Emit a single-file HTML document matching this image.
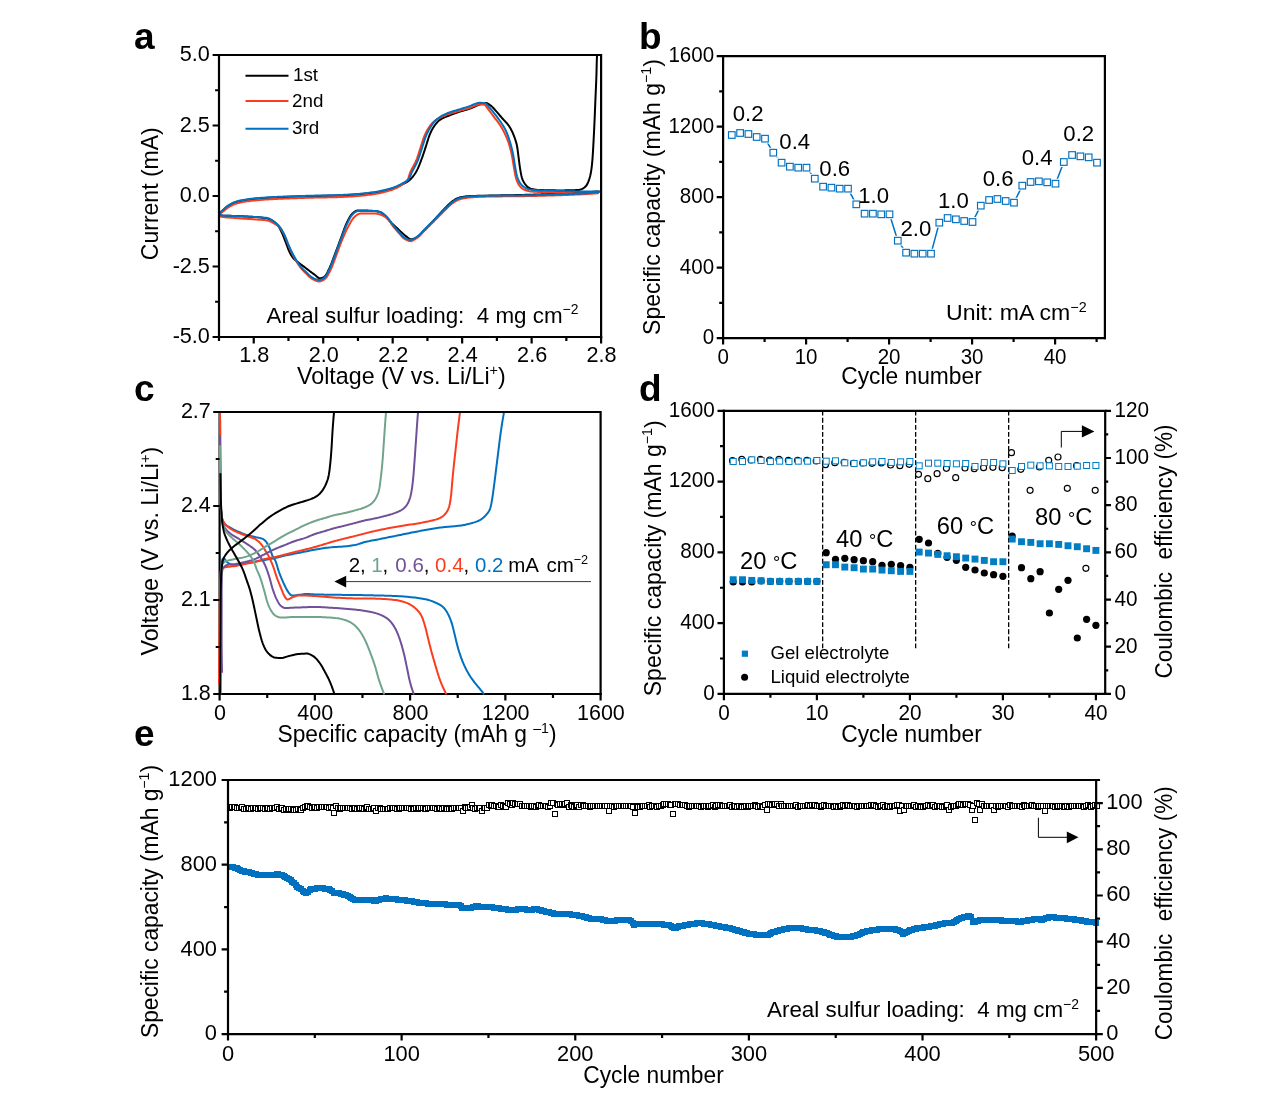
<!DOCTYPE html>
<html lang="en">
<head>
<meta charset="utf-8">
<title>Figure</title>
<style>
html,body{margin:0;padding:0;background:#fff;}
body{width:1275px;height:1104px;overflow:hidden;}
svg{display:block;will-change:transform;}
svg text{font-family:'Liberation Sans', sans-serif;}
</style>
</head>
<body>
<svg width="1275" height="1104" viewBox="0 0 1275 1104">
<rect width="1275" height="1104" fill="#fff"/>
<g id="panel-a">
<clipPath id="clipA"><rect x="219" y="55" width="382.1" height="282"/></clipPath>
<g clip-path="url(#clipA)">
<polyline points="599,191.4 597.5,191.5 596,191.61 594.5,191.71 593,191.81 591.5,191.9 590,192 588.49,192.1 586.99,192.19 585.49,192.28 583.99,192.37 582.49,192.46 580.99,192.54 579.49,192.63 577.98,192.71 576.48,192.79 574.98,192.87 573.48,192.95 571.98,193.03 570.47,193.1 568.97,193.18 567.47,193.25 565.97,193.33 564.46,193.4 562.96,193.47 561.46,193.53 559.96,193.6 558.45,193.67 556.95,193.73 555.45,193.8 553.95,193.86 552.44,193.93 550.94,193.99 549.44,194.05 547.93,194.11 546.43,194.17 544.93,194.22 543.43,194.28 541.92,194.33 540.42,194.39 538.92,194.44 537.41,194.49 535.91,194.54 534.41,194.59 532.9,194.64 531.4,194.68 529.9,194.73 528.39,194.77 526.89,194.82 525.39,194.86 523.88,194.9 522.38,194.94 520.87,194.98 519.37,195.01 517.87,195.05 516.36,195.08 514.86,195.11 513.36,195.14 511.85,195.17 510.35,195.2 508.84,195.23 507.34,195.26 505.84,195.29 504.33,195.32 502.83,195.34 501.33,195.37 499.82,195.4 498.32,195.43 496.81,195.46 495.31,195.49 493.81,195.52 492.3,195.54 490.8,195.57 489.29,195.6 487.79,195.63 486.29,195.66 484.78,195.69 483.28,195.72 481.78,195.76 480.27,195.79 478.77,195.83 477.26,195.87 475.76,195.9 474.25,195.95 472.75,195.99 471.24,196.05 469.74,196.11 468.25,196.19 466.74,196.29 465.24,196.45 463.73,196.67 462.24,196.92 460.78,197.22 459.35,197.58 457.94,198.09 456.56,198.74 455.21,199.48 453.93,200.24 452.7,201.07 451.52,202 450.38,203 449.25,204.03 448.15,205.06 447.06,206.09 446,207.15 444.95,208.23 443.92,209.33 442.9,210.44 441.88,211.55 440.87,212.66 439.85,213.77 438.83,214.87 437.82,215.99 436.81,217.11 435.81,218.23 434.8,219.35 433.79,220.46 432.78,221.57 431.75,222.67 430.71,223.76 429.67,224.84 428.63,225.92 427.58,227 426.52,228.07 425.46,229.14 424.4,230.2 423.34,231.28 422.3,232.4 421.26,233.53 420.19,234.61 419.08,235.61 417.9,236.46 416.64,237.3 415.29,238.14 413.89,238.81 412.46,239.17 410.98,239.14 409.54,238.87 408.27,238.06 407.07,237.05 405.88,236.14 404.72,235.18 403.59,234.2 402.46,233.19 401.35,232.17 400.25,231.15 399.14,230.13 398.03,229.11 396.92,228.09 395.82,227.07 394.72,226.04 393.64,225 392.56,223.95 391.49,222.89 390.43,221.82 389.41,220.72 388.39,219.61 387.38,218.49 386.36,217.39 385.31,216.31 384.25,215.22 383.17,214.06 382.05,213.03 380.84,212.33 379.47,211.86 377.99,211.46 376.46,211.17 374.95,211 373.46,210.9 371.94,210.81 370.42,210.73 368.88,210.65 367.34,210.59 365.81,210.53 364.28,210.49 362.77,210.45 361.28,210.43 359.82,210.41 358.39,210.4 356.97,210.56 355.54,211.17 354.19,212.05 353.02,212.98 352.03,213.94 351.1,215.06 350.24,216.31 349.44,217.64 348.68,219.03 347.97,220.43 347.29,221.81 346.64,223.15 346.02,224.5 345.44,225.88 344.88,227.27 344.35,228.68 343.83,230.1 343.32,231.52 342.82,232.95 342.32,234.38 341.81,235.81 341.29,237.22 340.76,238.63 340.23,240.04 339.7,241.45 339.18,242.86 338.66,244.27 338.13,245.68 337.61,247.09 337.09,248.5 336.56,249.91 336.03,251.32 335.49,252.72 334.95,254.12 334.42,255.53 333.89,256.95 333.37,258.37 332.85,259.79 332.32,261.2 331.78,262.61 331.23,264.01 330.65,265.4 330.05,266.77 329.43,268.13 328.77,269.47 328.09,270.9 327.39,272.37 326.64,273.81 325.83,275.12 324.93,276.23 323.92,277.05 322.6,277.73 321.07,278.26 319.66,278.37 318.38,277.85 317.14,276.87 315.93,275.76 314.71,274.79 313.49,273.91 312.29,273.01 311.09,272.1 309.89,271.19 308.69,270.28 307.49,269.37 306.29,268.47 305.08,267.57 303.87,266.68 302.67,265.78 301.46,264.88 300.26,263.97 299.07,263.05 297.86,262.15 296.62,261.25 295.42,260.32 294.32,259.33 293.34,258.24 292.43,257.05 291.58,255.78 290.8,254.47 290.08,253.15 289.42,251.81 288.82,250.44 288.26,249.05 287.73,247.63 287.21,246.21 286.69,244.79 286.15,243.38 285.6,241.98 285.06,240.57 284.52,239.16 283.98,237.76 283.43,236.35 282.87,234.96 282.27,233.59 281.64,232.22 281,230.84 280.33,229.46 279.62,228.12 278.86,226.83 278.02,225.63 277.08,224.49 276.02,223.38 274.87,222.35 273.66,221.43 272.43,220.66 271.1,219.93 269.71,219.27 268.28,218.73 266.84,218.37 265.39,218.11 263.92,217.88 262.43,217.68 260.93,217.51 259.41,217.36 257.9,217.22 256.39,217.1 254.88,216.99 253.38,216.89 251.88,216.8 250.38,216.71 248.88,216.64 247.38,216.57 245.88,216.5 244.37,216.44 242.87,216.37 241.37,216.31 239.86,216.24 238.36,216.17 236.86,216.1 235.35,216.02 233.77,215.94 231.97,215.88 230.02,215.83 228.02,215.78 226.07,215.72 224.24,215.65 222.63,215.56 221.33,215.44 220.43,215.27 220.02,215.06 220.02,213.88 220.58,212.62 221.64,211.45 222.91,210.36 224.09,209.31 225.19,208.29 226.34,207.31 227.55,206.38 228.78,205.54 230.05,204.76 231.38,204.01 232.73,203.33 234.12,202.73 235.51,202.23 236.94,201.79 238.4,201.39 239.87,201.03 241.35,200.71 242.83,200.43 244.31,200.17 245.79,199.94 247.28,199.71 248.77,199.51 250.26,199.31 251.76,199.14 253.26,198.97 254.75,198.82 256.25,198.68 257.75,198.55 259.24,198.43 260.74,198.3 262.24,198.19 263.74,198.08 265.24,197.97 266.75,197.87 268.25,197.78 269.75,197.69 271.25,197.6 272.76,197.52 274.26,197.44 275.76,197.36 277.26,197.29 278.76,197.22 280.27,197.15 281.77,197.09 283.27,197.03 284.77,196.97 286.28,196.91 287.78,196.85 289.28,196.8 290.79,196.75 292.29,196.69 293.79,196.64 295.3,196.59 296.8,196.54 298.3,196.49 299.81,196.44 301.31,196.39 302.81,196.34 304.32,196.3 305.82,196.25 307.32,196.21 308.83,196.16 310.33,196.12 311.83,196.08 313.34,196.04 314.84,196 316.35,195.97 317.85,195.94 319.35,195.91 320.86,195.88 322.36,195.86 323.87,195.83 325.37,195.81 326.87,195.78 328.38,195.75 329.88,195.72 331.38,195.69 332.89,195.66 334.39,195.62 335.89,195.57 337.4,195.52 338.9,195.47 340.4,195.41 341.91,195.35 343.41,195.28 344.91,195.2 346.42,195.13 347.92,195.04 349.42,194.96 350.92,194.87 352.42,194.77 353.92,194.67 355.42,194.57 356.92,194.46 358.42,194.34 359.92,194.21 361.42,194.07 362.92,193.92 364.41,193.76 365.91,193.59 367.41,193.42 368.9,193.23 370.39,193.04 371.88,192.84 373.37,192.63 374.86,192.42 376.34,192.19 377.82,191.93 379.3,191.65 380.78,191.35 382.25,191.03 383.72,190.7 385.18,190.36 386.64,190.01 388.11,189.64 389.57,189.26 391.02,188.86 392.47,188.43 393.9,187.97 395.31,187.49 396.71,186.95 398.09,186.37 399.47,185.74 400.83,185.09 402.18,184.41 403.52,183.74 404.89,183.06 406.26,182.36 407.57,181.6 408.78,180.77 409.88,179.85 410.95,178.81 411.98,177.69 412.96,176.5 413.89,175.26 414.76,174 415.57,172.72 416.31,171.45 417.01,170.16 417.67,168.82 418.3,167.46 418.9,166.07 419.48,164.67 420.03,163.25 420.58,161.83 421.11,160.4 421.63,158.98 422.16,157.57 422.67,156.16 423.16,154.74 423.63,153.31 424.1,151.88 424.56,150.45 425.02,149.02 425.48,147.58 425.95,146.15 426.42,144.72 426.87,143.28 427.31,141.84 427.76,140.39 428.21,138.96 428.68,137.53 429.18,136.11 429.71,134.71 430.28,133.33 430.9,131.96 431.56,130.59 432.27,129.24 433.02,127.93 433.81,126.68 434.66,125.45 435.58,124.23 436.56,123.03 437.6,121.89 438.69,120.84 439.82,119.93 441.01,119.14 442.29,118.43 443.65,117.77 445.05,117.16 446.48,116.58 447.91,116.02 449.33,115.47 450.73,114.91 452.13,114.36 453.54,113.83 454.96,113.32 456.38,112.82 457.8,112.33 459.23,111.85 460.66,111.39 462.1,110.95 463.54,110.54 464.99,110.13 466.44,109.72 467.89,109.29 469.32,108.83 470.73,108.33 472.12,107.76 473.5,107.13 474.87,106.49 476.24,105.85 477.62,105.25 479.02,104.72 480.44,104.27 481.91,103.81 483.4,103.38 484.87,103.08 486.29,103.02 487.69,103.49 489.04,104.33 490.28,105.2 491.43,106.11 492.52,107.15 493.56,108.26 494.58,109.41 495.59,110.55 496.6,111.66 497.6,112.79 498.57,113.93 499.54,115.08 500.5,116.24 501.48,117.39 502.46,118.53 503.49,119.64 504.54,120.74 505.59,121.84 506.61,122.96 507.59,124.1 508.5,125.27 509.32,126.49 510.09,127.76 510.83,129.07 511.54,130.41 512.21,131.78 512.84,133.16 513.43,134.56 513.98,135.95 514.5,137.35 515,138.77 515.48,140.21 515.93,141.65 516.34,143.11 516.7,144.57 517.01,146.03 517.27,147.51 517.5,148.99 517.7,150.48 517.89,151.98 518.08,153.47 518.26,154.97 518.46,156.46 518.66,157.95 518.85,159.45 519.03,160.94 519.22,162.43 519.41,163.93 519.61,165.42 519.83,166.9 520.06,168.39 520.3,169.88 520.55,171.38 520.81,172.88 521.1,174.36 521.42,175.83 521.79,177.27 522.22,178.68 522.77,180.1 523.44,181.49 524.2,182.81 525.02,184.02 525.95,185.21 527.04,186.39 528.23,187.44 529.48,188.2 530.77,188.63 532.16,188.98 533.64,189.29 535.16,189.54 536.71,189.75 538.27,189.9 539.79,189.99 541.29,190.05 542.78,190.1 544.28,190.15 545.78,190.19 547.29,190.24 548.79,190.27 550.3,190.3 551.81,190.33 553.31,190.35 554.82,190.37 556.33,190.39 557.83,190.4 559.34,190.4 560.84,190.4 562.35,190.39 563.86,190.38 565.37,190.37 566.89,190.35 568.4,190.32 569.91,190.29 571.42,190.25 572.92,190.21 574.42,190.16 575.91,190.1 577.39,190.03 578.88,189.91 580.38,189.56 581.8,189.08 583.13,188.45 584.41,187.55 585.55,186.51 586.45,185.41 587.23,184.13 587.91,182.73 588.48,181.31 588.99,179.91 589.45,178.48 589.88,177.03 590.26,175.57 590.6,174.09 590.89,172.61 591.14,171.14 591.36,169.66 591.56,168.17 591.75,166.67 591.92,165.17 592.07,163.67 592.21,162.17 592.34,160.67 592.47,159.17 592.58,157.67 592.69,156.17 592.79,154.67 592.88,153.17 592.97,151.67 593.06,150.17 593.14,148.67 593.23,147.16 593.31,145.66 593.39,144.16 593.47,142.66 593.56,141.16 593.64,139.65 593.71,138.15 593.79,136.65 593.87,135.15 593.94,133.65 594.02,132.14 594.09,130.64 594.16,129.14 594.23,127.64 594.3,126.13 594.37,124.63 594.44,123.13 594.51,121.63 594.57,120.12 594.64,118.62 594.7,117.12 594.76,115.62 594.83,114.11 594.89,112.61 594.95,111.11 595.01,109.6 595.07,108.1 595.13,106.6 595.19,105.1 595.25,103.59 595.31,102.09 595.38,100.59 595.44,99.08 595.5,97.58 595.57,96.08 595.63,94.58 595.7,93.07 595.76,91.57 595.83,90.07 595.9,88.56 595.96,87.06 596.03,85.56 596.09,84.06 596.15,82.55 596.21,81.05 596.27,79.55 596.33,78.05 596.38,76.54 596.43,75.04 596.48,73.53 596.52,72.03 596.55,70.53 596.59,69.02 596.62,67.52 596.65,66.01 596.69,64.51 596.73,63 596.77,61.5 596.82,60 596.88,58.5 596.95,57 597.04,55.5 597.2,54" fill="none" stroke="#000" stroke-width="2" stroke-linejoin="round" stroke-linecap="round"/>
<polyline points="598,193.2 596.5,193.32 595,193.43 593.5,193.55 592,193.66 590.5,193.76 589,193.87 587.5,193.97 586,194.06 584.5,194.15 583,194.24 581.49,194.32 579.99,194.4 578.49,194.47 576.99,194.54 575.49,194.61 573.98,194.68 572.48,194.74 570.98,194.8 569.47,194.86 567.97,194.92 566.47,194.97 564.97,195.03 563.46,195.08 561.96,195.13 560.46,195.18 558.95,195.24 557.45,195.29 555.95,195.34 554.44,195.39 552.94,195.43 551.44,195.48 549.93,195.53 548.43,195.57 546.93,195.62 545.42,195.66 543.92,195.7 542.42,195.74 540.91,195.78 539.41,195.81 537.91,195.85 536.4,195.89 534.9,195.92 533.4,195.95 531.89,195.99 530.39,196.02 528.88,196.05 527.38,196.08 525.88,196.11 524.37,196.13 522.87,196.16 521.37,196.18 519.86,196.2 518.36,196.22 516.85,196.24 515.35,196.25 513.85,196.27 512.34,196.28 510.84,196.29 509.33,196.31 507.83,196.32 506.33,196.33 504.82,196.35 503.32,196.36 501.81,196.38 500.31,196.4 498.81,196.42 497.3,196.44 495.8,196.46 494.29,196.48 492.79,196.5 491.29,196.53 489.78,196.56 488.28,196.59 486.77,196.62 485.27,196.65 483.77,196.69 482.26,196.73 480.76,196.78 479.26,196.83 477.75,196.89 476.25,196.96 474.74,197.05 473.24,197.14 471.74,197.26 470.24,197.38 468.75,197.52 467.26,197.68 465.76,197.9 464.27,198.16 462.78,198.47 461.32,198.83 459.9,199.23 458.5,199.74 457.13,200.38 455.78,201.11 454.49,201.89 453.25,202.7 452.05,203.6 450.89,204.57 449.76,205.58 448.65,206.61 447.54,207.62 446.45,208.66 445.38,209.71 444.32,210.78 443.27,211.86 442.22,212.94 441.17,214.02 440.11,215.09 439.05,216.15 437.98,217.22 436.92,218.28 435.86,219.34 434.79,220.41 433.73,221.47 432.67,222.53 431.6,223.6 430.54,224.66 429.48,225.72 428.41,226.79 427.35,227.85 426.28,228.92 425.22,229.98 424.16,231.04 423.11,232.12 422.07,233.24 421.04,234.36 419.99,235.44 418.9,236.46 417.75,237.39 416.53,238.25 415.26,239.06 413.94,239.82 412.6,240.52 411.22,241.17 409.78,241.08 408.29,240.68 406.83,240.1 405.46,239.44 404.24,238.74 403.11,237.82 402.05,236.73 401.02,235.56 400.02,234.36 399.01,233.21 397.99,232.1 396.99,230.97 396.01,229.84 395.04,228.69 394.08,227.53 393.13,226.36 392.21,225.15 391.35,223.88 390.51,222.57 389.66,221.29 388.77,220.07 387.81,218.96 386.76,218.01 385.58,217.12 384.28,216.28 382.91,215.55 381.52,214.97 380.11,214.53 378.65,214.13 377.16,213.81 375.65,213.62 374.16,213.6 372.65,213.6 371.11,213.6 369.57,213.6 368.03,213.6 366.49,213.6 364.97,213.6 363.47,213.6 362.01,213.6 360.58,213.6 359.18,213.71 357.77,214.31 356.43,215.21 355.24,216.2 354.21,217.15 353.26,218.24 352.37,219.45 351.54,220.74 350.75,222.08 349.99,223.45 349.25,224.81 348.52,226.14 347.81,227.45 347.12,228.78 346.45,230.13 345.8,231.49 345.17,232.86 344.55,234.23 343.94,235.61 343.35,237 342.76,238.39 342.18,239.78 341.6,241.16 341.05,242.56 340.51,243.96 339.98,245.37 339.46,246.78 338.94,248.2 338.43,249.61 337.92,251.03 337.41,252.44 336.89,253.85 336.36,255.26 335.82,256.67 335.29,258.08 334.77,259.5 334.25,260.92 333.73,262.35 333.21,263.77 332.67,265.18 332.11,266.58 331.53,267.96 330.92,269.32 330.28,270.66 329.59,271.99 328.87,273.39 328.11,274.8 327.29,276.17 326.41,277.42 325.45,278.49 324.41,279.33 323.15,280.09 321.71,280.78 320.21,281.26 318.75,281.39 317.3,281.17 315.83,280.69 314.39,280.07 313.04,279.42 311.79,278.69 310.6,277.78 309.46,276.76 308.35,275.69 307.25,274.63 306.15,273.61 305.05,272.57 303.97,271.5 302.93,270.42 301.92,269.3 300.96,268.16 300.06,266.97 299.18,265.76 298.33,264.51 297.51,263.24 296.71,261.95 295.94,260.65 295.19,259.34 294.47,258.04 293.76,256.71 293.08,255.38 292.41,254.03 291.76,252.67 291.12,251.3 290.49,249.93 289.87,248.56 289.26,247.18 288.66,245.8 288.09,244.41 287.54,243 287.01,241.58 286.48,240.17 285.94,238.76 285.37,237.36 284.77,235.99 284.13,234.65 283.43,233.32 282.7,231.97 281.92,230.64 281.08,229.35 280.19,228.14 279.24,227.04 278.19,226.06 277,225.15 275.72,224.3 274.38,223.53 273.04,222.82 271.7,222.14 270.32,221.47 268.91,220.9 267.48,220.49 266.03,220.26 264.56,220.09 263.07,219.95 261.56,219.83 260.05,219.73 258.53,219.64 257.02,219.54 255.51,219.44 254.01,219.33 252.5,219.22 251,219.12 249.5,219.02 248,218.93 246.5,218.84 244.99,218.75 243.49,218.65 241.99,218.56 240.49,218.45 238.99,218.34 237.49,218.22 236,218.09 234.49,217.95 232.78,217.82 230.9,217.7 228.93,217.58 226.96,217.44 225.08,217.28 223.37,217.08 221.92,216.83 220.82,216.52 220.16,216.14 220,215.51 220.18,214.07 221.1,212.96 222.45,211.94 223.8,210.97 224.94,209.99 226.11,209.04 227.32,208.12 228.56,207.28 229.83,206.5 231.15,205.75 232.5,205.05 233.87,204.43 235.27,203.91 236.69,203.46 238.14,203.06 239.61,202.69 241.09,202.37 242.57,202.08 244.04,201.82 245.53,201.58 247.01,201.35 248.51,201.14 250,200.95 251.5,200.77 252.99,200.6 254.49,200.45 255.98,200.31 257.48,200.17 258.98,200.05 260.48,199.93 261.98,199.81 263.48,199.7 264.98,199.59 266.48,199.49 267.98,199.4 269.48,199.3 270.99,199.22 272.49,199.13 273.99,199.05 275.49,198.98 276.99,198.9 278.5,198.83 280,198.76 281.5,198.7 283,198.64 284.51,198.58 286.01,198.52 287.51,198.46 289.02,198.41 290.52,198.36 292.02,198.3 293.53,198.25 295.03,198.2 296.53,198.15 298.04,198.1 299.54,198.05 301.04,198 302.54,197.95 304.05,197.9 305.55,197.86 307.05,197.81 308.56,197.77 310.06,197.73 311.57,197.69 313.07,197.65 314.57,197.61 316.08,197.58 317.58,197.54 319.08,197.51 320.59,197.49 322.09,197.46 323.59,197.43 325.1,197.41 326.6,197.38 328.11,197.36 329.61,197.33 331.11,197.3 332.62,197.26 334.12,197.22 335.62,197.18 337.13,197.13 338.63,197.08 340.13,197.02 341.64,196.96 343.14,196.89 344.64,196.82 346.15,196.74 347.65,196.66 349.15,196.57 350.65,196.48 352.15,196.39 353.65,196.29 355.15,196.19 356.65,196.08 358.15,195.96 359.65,195.84 361.15,195.7 362.65,195.56 364.15,195.4 365.65,195.24 367.14,195.06 368.64,194.88 370.13,194.69 371.62,194.49 373.11,194.28 374.59,194.06 376.07,193.83 377.55,193.56 379.02,193.25 380.49,192.92 381.96,192.57 383.42,192.21 384.88,191.83 386.33,191.45 387.79,191.05 389.24,190.62 390.69,190.18 392.12,189.7 393.53,189.19 394.91,188.64 396.27,188.03 397.62,187.36 398.95,186.63 400.26,185.85 401.53,185.03 402.76,184.18 403.98,183.28 405.21,182.33 406.35,181.29 407.28,180.18 407.96,178.96 408.52,177.6 409,176.15 409.46,174.66 409.94,173.19 410.5,171.78 411.12,170.41 411.79,169.07 412.5,167.73 413.22,166.4 413.94,165.08 414.65,163.74 415.33,162.4 415.96,161.04 416.53,159.66 417.06,158.27 417.56,156.85 418.04,155.43 418.5,153.99 418.95,152.55 419.4,151.11 419.86,149.67 420.32,148.24 420.79,146.81 421.24,145.37 421.69,143.93 422.13,142.49 422.59,141.05 423.06,139.62 423.55,138.2 424.08,136.8 424.64,135.42 425.25,134.04 425.9,132.67 426.59,131.32 427.31,130 428.08,128.71 428.88,127.46 429.75,126.21 430.66,124.99 431.63,123.81 432.65,122.7 433.72,121.69 434.88,120.77 436.12,119.9 437.42,119.09 438.73,118.35 440.05,117.65 441.4,116.99 442.77,116.37 444.17,115.77 445.57,115.21 446.98,114.68 448.39,114.18 449.82,113.72 451.25,113.27 452.7,112.85 454.15,112.43 455.59,112 457.03,111.58 458.48,111.17 459.93,110.76 461.38,110.35 462.82,109.94 464.27,109.52 465.71,109.11 467.16,108.69 468.6,108.26 470.03,107.79 471.43,107.25 472.82,106.65 474.2,106.05 475.61,105.53 477.04,105.06 478.5,104.61 479.97,104.4 481.53,104.43 483.08,104.52 484.38,104.69 485.47,105.48 486.46,106.77 487.4,108.19 488.35,109.42 489.28,110.6 490.19,111.8 491.08,113.01 491.97,114.23 492.85,115.45 493.74,116.66 494.65,117.86 495.58,119.05 496.51,120.23 497.44,121.42 498.35,122.62 499.22,123.84 500.05,125.08 500.85,126.35 501.63,127.64 502.39,128.95 503.12,130.27 503.82,131.6 504.5,132.95 505.14,134.3 505.77,135.67 506.38,137.04 506.96,138.43 507.53,139.83 508.06,141.25 508.57,142.66 509.03,144.09 509.46,145.52 509.87,146.96 510.26,148.42 510.63,149.88 510.99,151.35 511.33,152.82 511.65,154.29 511.95,155.76 512.24,157.23 512.5,158.71 512.74,160.2 512.98,161.68 513.21,163.17 513.44,164.66 513.68,166.14 513.93,167.63 514.2,169.11 514.46,170.6 514.72,172.09 514.99,173.58 515.28,175.05 515.61,176.51 515.99,177.95 516.42,179.4 516.94,180.85 517.53,182.28 518.19,183.64 518.93,184.89 519.79,186.08 520.83,187.25 521.99,188.33 523.23,189.2 524.49,189.81 525.86,190.31 527.31,190.75 528.82,191.12 530.35,191.4 531.86,191.59 533.34,191.7 534.84,191.78 536.35,191.85 537.86,191.91 539.36,191.97 540.87,192.04 542.37,192.11 543.87,192.18 545.37,192.24 546.88,192.31 548.38,192.38 549.88,192.44 551.39,192.5 552.89,192.56 554.39,192.62 555.89,192.67 557.4,192.72 558.9,192.77 560.4,192.81 561.91,192.85 563.41,192.89 564.91,192.94 566.42,192.98 567.92,193.02 569.43,193.05 570.93,193.09 572.43,193.12 573.94,193.15 575.44,193.17 576.94,193.19 578.45,193.2 579.95,193.2 581.46,193.2 582.96,193.2 584.46,193.2 585.97,193.2 587.47,193.2 588.98,193.2 590.48,193.2 591.98,193.2 593.49,193.2 594.99,193.2 596.5,193.2 598,193.2" fill="none" stroke="#fb3d1e" stroke-width="2" stroke-linejoin="round" stroke-linecap="round"/>
<polyline points="599,192 597.5,192.16 596.01,192.31 594.51,192.46 593.02,192.6 591.52,192.74 590.02,192.88 588.53,193 587.03,193.13 585.53,193.24 584.03,193.35 582.53,193.45 581.03,193.54 579.54,193.63 578.04,193.7 576.54,193.78 575.04,193.84 573.53,193.91 572.03,193.97 570.53,194.03 569.03,194.09 567.53,194.14 566.03,194.19 564.52,194.25 563.02,194.3 561.52,194.35 560.02,194.4 558.52,194.45 557.01,194.5 555.51,194.55 554.01,194.6 552.51,194.65 551.01,194.69 549.51,194.74 548,194.79 546.5,194.83 545,194.87 543.5,194.91 542,194.95 540.49,194.99 538.99,195.02 537.49,195.06 535.99,195.09 534.49,195.13 532.98,195.16 531.48,195.2 529.98,195.23 528.48,195.26 526.98,195.29 525.47,195.31 523.97,195.34 522.47,195.36 520.97,195.39 519.46,195.41 517.96,195.43 516.46,195.44 514.96,195.46 513.45,195.47 511.95,195.48 510.45,195.5 508.95,195.51 507.44,195.52 505.94,195.53 504.44,195.55 502.94,195.56 501.43,195.58 499.93,195.6 498.43,195.62 496.93,195.64 495.42,195.67 493.92,195.69 492.42,195.71 490.92,195.74 489.42,195.77 487.91,195.8 486.41,195.83 484.91,195.87 483.41,195.91 481.9,195.95 480.4,195.99 478.9,196.03 477.4,196.08 475.89,196.14 474.39,196.21 472.89,196.28 471.39,196.36 469.89,196.46 468.4,196.57 466.9,196.7 465.4,196.89 463.9,197.13 462.41,197.42 460.95,197.75 459.54,198.14 458.14,198.67 456.78,199.34 455.45,200.1 454.17,200.89 452.94,201.72 451.76,202.64 450.61,203.62 449.48,204.64 448.37,205.66 447.27,206.68 446.18,207.71 445.11,208.77 444.06,209.84 443.01,210.92 441.96,212 440.91,213.08 439.85,214.15 438.79,215.21 437.73,216.27 436.67,217.33 435.61,218.39 434.54,219.46 433.48,220.52 432.42,221.58 431.36,222.64 430.29,223.71 429.23,224.77 428.17,225.83 427.11,226.89 426.04,227.96 424.98,229.02 423.92,230.08 422.87,231.17 421.84,232.29 420.81,233.4 419.76,234.47 418.66,235.47 417.49,236.38 416.26,237.23 414.98,238.03 413.65,238.78 412.31,239.46 410.92,240 409.47,239.81 407.98,239.37 406.53,238.76 405.19,238.1 404,237.36 402.88,236.4 401.83,235.3 400.81,234.11 399.81,232.91 398.8,231.78 397.79,230.67 396.79,229.54 395.81,228.4 394.84,227.25 393.89,226.09 392.94,224.93 392.03,223.72 391.16,222.48 390.31,221.22 389.44,219.97 388.55,218.77 387.6,217.63 386.57,216.57 385.47,215.51 384.31,214.47 383.09,213.53 381.82,212.76 380.5,212.22 379.08,211.74 377.6,211.33 376.08,211.06 374.59,211 373.09,211 371.57,211 370.03,211 368.48,211 366.94,211 365.4,211 363.87,211 362.37,211 360.89,211 359.45,211 358.05,211 356.67,211.29 355.29,212.06 354.01,213.07 352.92,214.07 351.97,215.11 351.1,216.27 350.28,217.54 349.52,218.89 348.8,220.28 348.11,221.68 347.45,223.07 346.79,224.43 346.17,225.78 345.56,227.15 344.99,228.53 344.43,229.93 343.88,231.33 343.35,232.74 342.82,234.16 342.3,235.57 341.77,236.98 341.23,238.39 340.69,239.79 340.16,241.2 339.63,242.6 339.11,244.01 338.58,245.42 338.06,246.83 337.54,248.24 337.02,249.65 336.5,251.06 335.97,252.46 335.44,253.87 334.9,255.27 334.36,256.68 333.84,258.09 333.32,259.51 332.79,260.93 332.26,262.34 331.73,263.75 331.17,265.15 330.6,266.53 330,267.9 329.37,269.25 328.71,270.6 328.03,272.01 327.32,273.46 326.56,274.87 325.74,276.16 324.83,277.27 323.83,278.12 322.57,278.89 321.11,279.56 319.61,279.96 318.17,279.94 316.71,279.6 315.24,279.05 313.84,278.41 312.53,277.75 311.32,276.94 310.15,275.98 309.02,274.94 307.92,273.86 306.81,272.83 305.7,271.81 304.6,270.78 303.51,269.73 302.46,268.65 301.46,267.54 300.51,266.4 299.61,265.21 298.74,263.98 297.89,262.73 297.07,261.46 296.28,260.17 295.51,258.88 294.76,257.58 294.03,256.27 293.32,254.95 292.63,253.62 291.95,252.27 291.29,250.92 290.64,249.56 290.01,248.19 289.38,246.83 288.76,245.46 288.17,244.08 287.61,242.68 287.06,241.27 286.52,239.86 285.97,238.46 285.41,237.07 284.81,235.69 284.17,234.34 283.49,233.01 282.78,231.67 282.02,230.34 281.23,229.04 280.39,227.78 279.5,226.6 278.55,225.5 277.49,224.44 276.35,223.44 275.15,222.49 273.92,221.6 272.67,220.79 271.38,219.96 270.05,219.16 268.68,218.49 267.28,218.05 265.86,217.83 264.4,217.66 262.91,217.51 261.41,217.39 259.88,217.29 258.36,217.2 256.83,217.11 255.32,217.02 253.82,216.93 252.32,216.84 250.82,216.76 249.32,216.68 247.82,216.61 246.32,216.54 244.82,216.48 243.32,216.41 241.82,216.34 240.32,216.27 238.82,216.2 237.31,216.13 235.81,216.05 234.28,215.96 232.54,215.9 230.63,215.84 228.64,215.79 226.67,215.74 224.79,215.68 223.1,215.59 221.7,215.48 220.66,215.33 220.09,215.13 220,214.37 220.23,212.97 221.07,211.74 222.24,210.59 223.47,209.5 224.56,208.46 225.68,207.45 226.86,206.49 228.08,205.6 229.33,204.79 230.62,204.03 231.96,203.31 233.33,202.66 234.72,202.1 236.13,201.63 237.57,201.21 239.03,200.83 240.5,200.49 241.98,200.19 243.46,199.92 244.93,199.67 246.42,199.44 247.91,199.22 249.4,199.02 250.89,198.84 252.39,198.67 253.88,198.51 255.38,198.36 256.87,198.23 258.37,198.1 259.86,197.97 261.36,197.86 262.86,197.74 264.36,197.64 265.86,197.53 267.36,197.44 268.86,197.34 270.36,197.25 271.86,197.17 273.36,197.09 274.86,197.01 276.36,196.93 277.86,196.86 279.36,196.79 280.87,196.73 282.37,196.66 283.87,196.6 285.37,196.54 286.87,196.49 288.37,196.43 289.87,196.38 291.38,196.33 292.88,196.27 294.38,196.22 295.88,196.17 297.38,196.12 298.88,196.07 300.39,196.02 301.89,195.97 303.39,195.92 304.89,195.88 306.39,195.83 307.9,195.79 309.4,195.75 310.9,195.7 312.4,195.66 313.9,195.63 315.41,195.59 316.91,195.56 318.41,195.53 319.91,195.5 321.41,195.47 322.92,195.45 324.42,195.42 325.92,195.4 327.42,195.37 328.93,195.34 330.43,195.31 331.93,195.28 333.43,195.24 334.93,195.2 336.44,195.16 337.94,195.11 339.44,195.05 340.94,194.99 342.44,194.92 343.94,194.85 345.45,194.78 346.95,194.7 348.45,194.61 349.95,194.53 351.45,194.43 352.95,194.34 354.44,194.24 355.94,194.13 357.44,194.02 358.94,193.89 360.43,193.76 361.93,193.62 363.43,193.46 364.92,193.3 366.42,193.13 367.91,192.96 369.4,192.77 370.89,192.57 372.38,192.37 373.87,192.16 375.35,191.95 376.83,191.71 378.31,191.45 379.79,191.16 381.26,190.85 382.73,190.53 384.2,190.19 385.65,189.84 387.11,189.47 388.57,189.08 390.02,188.67 391.46,188.23 392.89,187.76 394.3,187.26 395.69,186.73 397.06,186.13 398.42,185.47 399.76,184.78 401.09,184.06 402.41,183.33 403.74,182.61 405.15,181.9 406.51,181.15 407.68,180.31 408.57,179.3 409.32,178.09 409.98,176.72 410.59,175.28 411.19,173.81 411.81,172.39 412.49,171.04 413.18,169.71 413.89,168.38 414.6,167.04 415.3,165.71 415.99,164.37 416.66,163.03 417.29,161.67 417.88,160.3 418.42,158.91 418.94,157.5 419.42,156.08 419.89,154.65 420.35,153.22 420.79,151.78 421.24,150.34 421.7,148.91 422.17,147.48 422.63,146.04 423.08,144.61 423.53,143.17 423.98,141.73 424.44,140.3 424.92,138.87 425.43,137.46 425.97,136.07 426.55,134.69 427.17,133.32 427.83,131.96 428.53,130.62 429.25,129.3 430,128.01 430.77,126.72 431.58,125.44 432.44,124.17 433.33,122.95 434.28,121.8 435.28,120.72 436.37,119.7 437.54,118.73 438.76,117.82 440.01,116.99 441.28,116.22 442.59,115.49 443.94,114.8 445.31,114.15 446.69,113.54 448.08,112.97 449.48,112.45 450.9,111.97 452.33,111.52 453.78,111.08 455.22,110.64 456.65,110.2 458.09,109.77 459.54,109.34 460.98,108.92 462.42,108.49 463.85,108.05 465.28,107.59 466.72,107.13 468.14,106.65 469.56,106.16 470.96,105.62 472.35,105.01 473.73,104.4 475.13,103.86 476.56,103.45 478.03,103.06 479.51,102.82 481.03,102.82 482.6,102.91 484.1,103.07 485.41,103.32 486.57,104.12 487.63,105.33 488.65,106.61 489.67,107.73 490.66,108.86 491.62,110.01 492.56,111.19 493.5,112.37 494.43,113.55 495.36,114.73 496.29,115.91 497.2,117.11 498.1,118.31 498.98,119.53 499.84,120.76 500.68,122.01 501.51,123.26 502.34,124.53 503.15,125.8 503.94,127.1 504.68,128.4 505.38,129.72 506.03,131.06 506.63,132.42 507.2,133.81 507.74,135.21 508.26,136.63 508.76,138.06 509.23,139.49 509.68,140.93 510.11,142.37 510.53,143.81 510.93,145.26 511.32,146.71 511.69,148.17 512.04,149.63 512.38,151.1 512.7,152.56 513.01,154.03 513.29,155.51 513.55,156.99 513.79,158.47 514.02,159.95 514.25,161.44 514.48,162.93 514.72,164.41 514.98,165.89 515.24,167.37 515.5,168.86 515.76,170.35 516.04,171.84 516.34,173.31 516.67,174.76 517.06,176.2 517.51,177.64 518.04,179.08 518.64,180.49 519.31,181.84 520.05,183.08 520.95,184.27 522.01,185.4 523.17,186.41 524.37,187.24 525.67,188 527.06,188.69 528.49,189.24 529.93,189.59 531.38,189.78 532.86,189.94 534.36,190.07 535.88,190.18 537.4,190.27 538.91,190.35 540.41,190.42 541.91,190.48 543.42,190.54 544.92,190.6 546.42,190.65 547.92,190.7 549.42,190.74 550.92,190.78 552.43,190.82 553.93,190.86 555.43,190.89 556.93,190.93 558.44,190.96 559.94,191 561.44,191.04 562.94,191.07 564.45,191.12 565.95,191.16 567.45,191.2 568.95,191.23 570.45,191.27 571.96,191.3 573.46,191.33 574.96,191.36 576.46,191.38 577.97,191.39 579.47,191.4 580.97,191.4 582.47,191.4 583.97,191.4 585.48,191.4 586.98,191.4 588.48,191.4 589.98,191.4 591.49,191.4 592.99,191.4 594.49,191.4 595.99,191.4 597.5,191.4 599,191.4" fill="none" stroke="#0070c0" stroke-width="2" stroke-linejoin="round" stroke-linecap="round"/>
</g>
<path d="M219 55V337H601.1" fill="none" stroke="#000" stroke-width="2.2" stroke-linecap="square"/>
<path d="M219 55H601.1V337" fill="none" stroke="#000" stroke-width="2.2" stroke-linecap="square"/>
<path d="M253.74 337v6.4M323.21 337v6.4M392.68 337v6.4M462.15 337v6.4M531.63 337v6.4M601.1 337v6.4M219 337v3.9M288.47 337v3.9M357.95 337v3.9M427.42 337v3.9M496.89 337v3.9M566.36 337v3.9" stroke="#000" stroke-width="2.2" fill="none"/>
<path d="M219 55h-6.4M219 125.5h-6.4M219 196h-6.4M219 266.5h-6.4M219 337h-6.4M219 90.25h-3.9M219 160.75h-3.9M219 231.25h-3.9M219 301.75h-3.9" stroke="#000" stroke-width="2.2" fill="none"/>
<text transform="translate(209.9 61) scale(1.01 1)" font-size="21.43" text-anchor="end">5.0</text>
<text transform="translate(209.9 131.5) scale(1.01 1)" font-size="21.43" text-anchor="end">2.5</text>
<text transform="translate(209.9 202) scale(1.01 1)" font-size="21.43" text-anchor="end">0.0</text>
<text transform="translate(209.9 272.5) scale(1.01 1)" font-size="21.43" text-anchor="end">-2.5</text>
<text transform="translate(209.9 343) scale(1.01 1)" font-size="21.43" text-anchor="end">-5.0</text>
<text transform="translate(254.24 362) scale(1.01 1)" font-size="21.43" text-anchor="middle">1.8</text>
<text transform="translate(323.71 362) scale(1.01 1)" font-size="21.43" text-anchor="middle">2.0</text>
<text transform="translate(393.18 362) scale(1.01 1)" font-size="21.43" text-anchor="middle">2.2</text>
<text transform="translate(462.65 362) scale(1.01 1)" font-size="21.43" text-anchor="middle">2.4</text>
<text transform="translate(532.13 362) scale(1.01 1)" font-size="21.43" text-anchor="middle">2.6</text>
<text transform="translate(601.6 362) scale(1.01 1)" font-size="21.43" text-anchor="middle">2.8</text>
<text transform="translate(401.4 383.5) scale(1 1)" font-size="23.26" text-anchor="middle">Voltage (V vs. Li/Li<tspan font-size="62%" dy="-0.61em">+</tspan><tspan dy="0.38em">&#8203;</tspan>)</text>
<text transform="translate(157.8 193.7) rotate(-90) scale(0.99 1)" font-size="23.26" text-anchor="middle">Current (mA)</text>
<text transform="translate(134 49.3)" font-size="37" font-weight="bold">a</text>
<line x1="245.5" y1="75.8" x2="288.5" y2="75.8" stroke="#000" stroke-width="2"/>
<text transform="translate(293 81.4) scale(1.06 1)" font-size="17.75">1st</text>
<line x1="245.5" y1="101" x2="288.5" y2="101" stroke="#fb3d1e" stroke-width="2"/>
<text transform="translate(292 106.6) scale(1.06 1)" font-size="17.75">2nd</text>
<line x1="245.5" y1="128.8" x2="288.5" y2="128.8" stroke="#0070c0" stroke-width="2"/>
<text transform="translate(292 134.4) scale(1.06 1)" font-size="17.75">3rd</text>
<text transform="translate(266.5 322.6) scale(0.98 1)" font-size="22.85">Areal sulfur loading:&#160; 4 mg cm<tspan font-size="62%" dy="-0.61em">&#8722;2</tspan><tspan dy="0.38em">&#8203;</tspan></text>
</g>
<g id="panel-b">
<polyline points="731.8,135 740.1,133 748.4,134 756.7,137 765,138.67 773.3,152.67 781.6,162.67 789.9,166.67 798.2,167.67 806.5,167.67 814.8,178.67 823.1,186.67 831.4,187.67 839.7,188.67 848,188.67 856.3,204.33 864.6,213.67 872.9,213.67 881.2,214.33 889.5,214.33 897.8,240.67 906.1,252.67 914.4,253.67 922.7,253.67 931,253.67 939.3,222.67 947.6,218 955.9,219.33 964.2,221 972.5,222 980.8,205.67 989.1,200 997.4,199 1005.7,201 1014,202.67 1022.3,185.67 1030.6,182 1038.9,181.33 1047.2,182.33 1055.5,183.67 1063.8,162 1072.1,155 1080.4,156.33 1088.7,157.33 1097,162.67" fill="none" stroke="#0070c0" stroke-width="1.5" stroke-linejoin="round" stroke-linecap="round"/>
<g fill="#fff"><rect x="726.9" y="130.1" width="9.8" height="9.8"/><rect x="735.2" y="128.1" width="9.8" height="9.8"/><rect x="743.5" y="129.1" width="9.8" height="9.8"/><rect x="751.8" y="132.1" width="9.8" height="9.8"/><rect x="760.1" y="133.77" width="9.8" height="9.8"/><rect x="768.4" y="147.77" width="9.8" height="9.8"/><rect x="776.7" y="157.77" width="9.8" height="9.8"/><rect x="785" y="161.77" width="9.8" height="9.8"/><rect x="793.3" y="162.77" width="9.8" height="9.8"/><rect x="801.6" y="162.77" width="9.8" height="9.8"/><rect x="809.9" y="173.77" width="9.8" height="9.8"/><rect x="818.2" y="181.77" width="9.8" height="9.8"/><rect x="826.5" y="182.77" width="9.8" height="9.8"/><rect x="834.8" y="183.77" width="9.8" height="9.8"/><rect x="843.1" y="183.77" width="9.8" height="9.8"/><rect x="851.4" y="199.43" width="9.8" height="9.8"/><rect x="859.7" y="208.77" width="9.8" height="9.8"/><rect x="868" y="208.77" width="9.8" height="9.8"/><rect x="876.3" y="209.43" width="9.8" height="9.8"/><rect x="884.6" y="209.43" width="9.8" height="9.8"/><rect x="892.9" y="235.77" width="9.8" height="9.8"/><rect x="901.2" y="247.77" width="9.8" height="9.8"/><rect x="909.5" y="248.77" width="9.8" height="9.8"/><rect x="917.8" y="248.77" width="9.8" height="9.8"/><rect x="926.1" y="248.77" width="9.8" height="9.8"/><rect x="934.4" y="217.77" width="9.8" height="9.8"/><rect x="942.7" y="213.1" width="9.8" height="9.8"/><rect x="951" y="214.43" width="9.8" height="9.8"/><rect x="959.3" y="216.1" width="9.8" height="9.8"/><rect x="967.6" y="217.1" width="9.8" height="9.8"/><rect x="975.9" y="200.77" width="9.8" height="9.8"/><rect x="984.2" y="195.1" width="9.8" height="9.8"/><rect x="992.5" y="194.1" width="9.8" height="9.8"/><rect x="1000.8" y="196.1" width="9.8" height="9.8"/><rect x="1009.1" y="197.77" width="9.8" height="9.8"/><rect x="1017.4" y="180.77" width="9.8" height="9.8"/><rect x="1025.7" y="177.1" width="9.8" height="9.8"/><rect x="1034" y="176.43" width="9.8" height="9.8"/><rect x="1042.3" y="177.43" width="9.8" height="9.8"/><rect x="1050.6" y="178.77" width="9.8" height="9.8"/><rect x="1058.9" y="157.1" width="9.8" height="9.8"/><rect x="1067.2" y="150.1" width="9.8" height="9.8"/><rect x="1075.5" y="151.43" width="9.8" height="9.8"/><rect x="1083.8" y="152.43" width="9.8" height="9.8"/><rect x="1092.1" y="157.77" width="9.8" height="9.8"/></g>
<g fill="#fff" stroke="#0070c0" stroke-width="1.15">
<rect x="728.5" y="131.7" width="6.6" height="6.6"/>
<rect x="736.8" y="129.7" width="6.6" height="6.6"/>
<rect x="745.1" y="130.7" width="6.6" height="6.6"/>
<rect x="753.4" y="133.7" width="6.6" height="6.6"/>
<rect x="761.7" y="135.37" width="6.6" height="6.6"/>
<rect x="770" y="149.37" width="6.6" height="6.6"/>
<rect x="778.3" y="159.37" width="6.6" height="6.6"/>
<rect x="786.6" y="163.37" width="6.6" height="6.6"/>
<rect x="794.9" y="164.37" width="6.6" height="6.6"/>
<rect x="803.2" y="164.37" width="6.6" height="6.6"/>
<rect x="811.5" y="175.37" width="6.6" height="6.6"/>
<rect x="819.8" y="183.37" width="6.6" height="6.6"/>
<rect x="828.1" y="184.37" width="6.6" height="6.6"/>
<rect x="836.4" y="185.37" width="6.6" height="6.6"/>
<rect x="844.7" y="185.37" width="6.6" height="6.6"/>
<rect x="853" y="201.03" width="6.6" height="6.6"/>
<rect x="861.3" y="210.37" width="6.6" height="6.6"/>
<rect x="869.6" y="210.37" width="6.6" height="6.6"/>
<rect x="877.9" y="211.03" width="6.6" height="6.6"/>
<rect x="886.2" y="211.03" width="6.6" height="6.6"/>
<rect x="894.5" y="237.37" width="6.6" height="6.6"/>
<rect x="902.8" y="249.37" width="6.6" height="6.6"/>
<rect x="911.1" y="250.37" width="6.6" height="6.6"/>
<rect x="919.4" y="250.37" width="6.6" height="6.6"/>
<rect x="927.7" y="250.37" width="6.6" height="6.6"/>
<rect x="936" y="219.37" width="6.6" height="6.6"/>
<rect x="944.3" y="214.7" width="6.6" height="6.6"/>
<rect x="952.6" y="216.03" width="6.6" height="6.6"/>
<rect x="960.9" y="217.7" width="6.6" height="6.6"/>
<rect x="969.2" y="218.7" width="6.6" height="6.6"/>
<rect x="977.5" y="202.37" width="6.6" height="6.6"/>
<rect x="985.8" y="196.7" width="6.6" height="6.6"/>
<rect x="994.1" y="195.7" width="6.6" height="6.6"/>
<rect x="1002.4" y="197.7" width="6.6" height="6.6"/>
<rect x="1010.7" y="199.37" width="6.6" height="6.6"/>
<rect x="1019" y="182.37" width="6.6" height="6.6"/>
<rect x="1027.3" y="178.7" width="6.6" height="6.6"/>
<rect x="1035.6" y="178.03" width="6.6" height="6.6"/>
<rect x="1043.9" y="179.03" width="6.6" height="6.6"/>
<rect x="1052.2" y="180.37" width="6.6" height="6.6"/>
<rect x="1060.5" y="158.7" width="6.6" height="6.6"/>
<rect x="1068.8" y="151.7" width="6.6" height="6.6"/>
<rect x="1077.1" y="153.03" width="6.6" height="6.6"/>
<rect x="1085.4" y="154.03" width="6.6" height="6.6"/>
<rect x="1093.7" y="159.37" width="6.6" height="6.6"/>
</g>
<path d="M723.1 56.1V338.1H1104.9" fill="none" stroke="#000" stroke-width="2.2" stroke-linecap="square"/>
<path d="M723.1 56.1H1104.9V338.1" fill="none" stroke="#000" stroke-width="2.2" stroke-linecap="square"/>
<path d="M723.1 338.1v6.4M806.1 338.1v6.4M889.1 338.1v6.4M972.1 338.1v6.4M1055.1 338.1v6.4M764.6 338.1v3.9M847.6 338.1v3.9M930.6 338.1v3.9M1013.6 338.1v3.9M1096.6 338.1v3.9" stroke="#000" stroke-width="2.2" fill="none"/>
<path d="M723.1 338.1h-6.4M723.1 267.6h-6.4M723.1 197.1h-6.4M723.1 126.6h-6.4M723.1 56.1h-6.4M723.1 302.85h-3.9M723.1 232.35h-3.9M723.1 161.85h-3.9M723.1 91.35h-3.9" stroke="#000" stroke-width="2.2" fill="none"/>
<text transform="translate(714.1 344.1) scale(0.94 1)" font-size="21.85" text-anchor="end">0</text>
<text transform="translate(714.1 273.6) scale(0.94 1)" font-size="21.85" text-anchor="end">400</text>
<text transform="translate(714.1 203.1) scale(0.94 1)" font-size="21.85" text-anchor="end">800</text>
<text transform="translate(714.1 132.6) scale(0.94 1)" font-size="21.85" text-anchor="end">1200</text>
<text transform="translate(714.1 62.1) scale(0.94 1)" font-size="21.85" text-anchor="end">1600</text>
<text transform="translate(723.1 363.8) scale(0.94 1)" font-size="21.85" text-anchor="middle">0</text>
<text transform="translate(806.1 363.8) scale(0.94 1)" font-size="21.85" text-anchor="middle">10</text>
<text transform="translate(889.1 363.8) scale(0.94 1)" font-size="21.85" text-anchor="middle">20</text>
<text transform="translate(972.1 363.8) scale(0.94 1)" font-size="21.85" text-anchor="middle">30</text>
<text transform="translate(1055.1 363.8) scale(0.94 1)" font-size="21.85" text-anchor="middle">40</text>
<text transform="translate(911.5 383.5) scale(0.98 1)" font-size="23.26" text-anchor="middle">Cycle number</text>
<text transform="translate(660.2 197) rotate(-90) scale(0.99 1)" font-size="23.26" text-anchor="middle">Specific capacity (mAh g<tspan font-size="62%" dy="-0.61em">&#8722;1</tspan><tspan dy="0.38em">&#8203;</tspan>)</text>
<text transform="translate(639 49.3)" font-size="37" font-weight="bold">b</text>
<text transform="translate(732.7 121) scale(0.98 1)" font-size="22.64">0.2</text>
<text transform="translate(779.3 149.3) scale(0.98 1)" font-size="22.64">0.4</text>
<text transform="translate(819.3 176) scale(0.98 1)" font-size="22.64">0.6</text>
<text transform="translate(858.2 203) scale(0.98 1)" font-size="22.64">1.0</text>
<text transform="translate(900.5 236) scale(0.98 1)" font-size="22.64">2.0</text>
<text transform="translate(938 208.3) scale(0.98 1)" font-size="22.64">1.0</text>
<text transform="translate(982.7 186) scale(0.98 1)" font-size="22.64">0.6</text>
<text transform="translate(1021.7 165) scale(0.98 1)" font-size="22.64">0.4</text>
<text transform="translate(1063.3 140.7) scale(0.98 1)" font-size="22.64">0.2</text>
<text transform="translate(946 320.3) scale(1.01 1)" font-size="22.85">Unit: mA cm<tspan font-size="62%" dy="-0.61em">&#8722;2</tspan><tspan dy="0.38em">&#8203;</tspan></text>
</g>
<g id="panel-c">
<path d="M219.6 412V694H600.6" fill="none" stroke="#000" stroke-width="2.2" stroke-linecap="square"/>
<path d="M219.6 412H600.6V694" fill="none" stroke="#000" stroke-width="2.2" stroke-linecap="square"/>
<clipPath id="clipC"><rect x="217.6" y="413.1" width="381.9" height="282"/></clipPath>
<g clip-path="url(#clipC)">
<polyline points="220.2,420 220.2,421.51 220.21,423.02 220.21,424.53 220.22,426.04 220.22,427.55 220.23,429.06 220.24,430.57 220.24,432.07 220.25,433.58 220.25,435.09 220.26,436.6 220.27,438.11 220.28,439.62 220.29,441.13 220.29,442.64 220.3,444.15 220.31,445.66 220.32,447.17 220.33,448.68 220.34,450.19 220.35,451.7 220.36,453.2 220.37,454.71 220.38,456.22 220.38,457.73 220.39,459.24 220.4,460.75 220.41,462.26 220.42,463.77 220.43,465.28 220.44,466.79 220.45,468.3 220.46,469.81 220.47,471.32 220.48,472.83 220.49,474.34 220.5,475.85 220.52,477.36 220.53,478.87 220.54,480.38 220.55,481.89 220.57,483.4 220.58,484.91 220.6,486.42 220.62,487.92 220.63,489.43 220.65,490.94 220.68,492.45 220.7,493.96 220.72,495.47 220.75,496.98 220.77,498.48 220.8,499.99 220.83,501.51 220.87,503.03 220.93,504.56 220.99,506.1 221.06,507.64 221.15,509.17 221.25,510.69 221.37,512.21 221.5,513.7 221.65,515.18 221.82,516.63 222.01,518.06 222.37,519.5 222.99,520.95 223.78,522.33 224.65,523.56 225.57,524.6 226.72,525.51 228.03,526.34 229.41,527.11 230.76,527.87 232.07,528.61 233.4,529.33 234.75,530.02 236.11,530.69 237.48,531.33 238.85,531.94 240.24,532.53 241.64,533.1 243.05,533.65 244.47,534.17 245.9,534.66 247.34,535.1 248.79,535.5 250.25,535.87 251.72,536.22 253.19,536.56 254.66,536.92 256.15,537.26 257.68,537.57 259.22,537.88 260.71,538.22 262.11,538.64 263.37,539.19 264.55,540.08 265.64,541.22 266.62,542.46 267.45,543.68 268.18,544.99 268.85,546.36 269.47,547.76 270.07,549.16 270.61,550.57 271.11,552.01 271.58,553.45 272.09,554.88 272.65,556.27 273.34,557.58 274.25,558.82 275.04,560.08 275.63,561.44 276.16,562.83 276.63,564.27 277.07,565.72 277.49,567.19 277.91,568.66 278.36,570.11 278.84,571.55 279.36,572.97 279.9,574.38 280.44,575.79 281.01,577.19 281.58,578.59 282.17,579.98 282.78,581.36 283.4,582.74 284.05,584.1 284.7,585.47 285.35,586.86 286.03,588.24 286.74,589.6 287.51,590.91 288.33,592.14 289.24,593.29 290.31,594.58 291.52,595.5 292.83,595.57 294.27,595.44 295.82,595.23 297.39,595 298.93,594.81 300.43,594.63 301.93,594.43 303.43,594.24 304.93,594.09 306.43,594.01 307.94,594.01 309.45,594.07 310.95,594.17 312.46,594.27 313.97,594.36 315.48,594.41 316.99,594.46 318.49,594.5 320,594.54 321.51,594.57 323.02,594.6 324.53,594.63 326.04,594.66 327.55,594.69 329.06,594.71 330.57,594.74 332.08,594.76 333.59,594.78 335.1,594.8 336.6,594.82 338.11,594.84 339.62,594.85 341.13,594.87 342.64,594.88 344.15,594.89 345.66,594.91 347.17,594.92 348.68,594.93 350.19,594.95 351.7,594.96 353.21,594.98 354.72,595 356.22,595.02 357.73,595.04 359.24,595.06 360.75,595.09 362.26,595.12 363.77,595.15 365.28,595.18 366.79,595.21 368.3,595.24 369.81,595.28 371.32,595.31 372.82,595.35 374.33,595.38 375.84,595.42 377.35,595.46 378.86,595.49 380.37,595.53 381.88,595.57 383.39,595.61 384.9,595.65 386.41,595.69 387.92,595.74 389.42,595.79 390.93,595.84 392.44,595.89 393.95,595.96 395.45,596.02 396.96,596.09 398.47,596.18 399.98,596.27 401.48,596.37 402.99,596.47 404.5,596.59 406,596.71 407.51,596.84 409.01,596.98 410.51,597.13 412.02,597.28 413.51,597.44 415.01,597.6 416.51,597.78 418.01,597.97 419.51,598.19 421.01,598.42 422.5,598.68 423.99,598.96 425.46,599.26 426.92,599.58 428.38,599.95 429.83,600.39 431.26,600.89 432.68,601.43 434.08,602 435.46,602.6 436.85,603.23 438.24,603.92 439.61,604.65 440.92,605.44 442.14,606.29 443.23,607.21 444.24,608.26 445.19,609.44 446.08,610.71 446.9,612.03 447.66,613.37 448.35,614.68 449,616.03 449.61,617.41 450.19,618.82 450.73,620.24 451.24,621.68 451.72,623.11 452.17,624.55 452.58,625.99 452.97,627.45 453.33,628.91 453.68,630.39 454.02,631.86 454.36,633.34 454.71,634.81 455.07,636.27 455.43,637.74 455.78,639.21 456.13,640.68 456.48,642.15 456.84,643.61 457.21,645.08 457.59,646.54 458,647.99 458.42,649.44 458.86,650.88 459.31,652.32 459.77,653.76 460.26,655.19 460.75,656.62 461.26,658.04 461.79,659.45 462.33,660.86 462.9,662.26 463.49,663.65 464.1,665.03 464.74,666.4 465.39,667.77 466.06,669.12 466.75,670.45 467.48,671.78 468.23,673.09 469,674.39 469.79,675.67 470.61,676.94 471.46,678.19 472.33,679.42 473.22,680.65 474.12,681.86 475.04,683.05 475.98,684.23 476.95,685.39 477.93,686.54 478.91,687.69 479.88,688.85 480.82,690.02 481.76,691.21 482.68,692.4 483.6,693.6" fill="none" stroke="#0070c0" stroke-width="2" stroke-linejoin="round" stroke-linecap="round"/>
<polyline points="220,686 220.01,684.5 220.02,682.99 220.03,681.49 220.04,679.98 220.06,678.48 220.07,676.97 220.08,675.47 220.09,673.96 220.1,672.46 220.12,670.95 220.13,669.45 220.14,667.94 220.15,666.44 220.17,664.93 220.18,663.43 220.19,661.92 220.21,660.42 220.22,658.91 220.23,657.41 220.25,655.9 220.26,654.4 220.27,652.89 220.29,651.39 220.3,649.88 220.32,648.38 220.33,646.87 220.35,645.37 220.36,643.86 220.38,642.36 220.39,640.85 220.41,639.35 220.42,637.84 220.44,636.34 220.45,634.83 220.47,633.33 220.48,631.82 220.5,630.32 220.51,628.81 220.53,627.31 220.55,625.8 220.56,624.3 220.58,622.79 220.59,621.29 220.61,619.78 220.63,618.28 220.65,616.77 220.66,615.27 220.68,613.76 220.7,612.26 220.72,610.75 220.73,609.25 220.75,607.74 220.77,606.24 220.79,604.73 220.81,603.23 220.83,601.72 220.85,600.22 220.87,598.71 220.89,597.21 220.91,595.7 220.94,594.2 220.96,592.7 220.98,591.19 221,589.69 221.03,588.18 221.05,586.68 221.08,585.17 221.1,583.67 221.12,582.16 221.15,580.66 221.18,579.15 221.21,577.65 221.24,576.14 221.28,574.64 221.31,573.13 221.35,571.63 221.4,570.12 221.44,568.62 221.49,567.1 221.56,565.59 221.64,564.09 221.75,562.6 221.92,561.06 222.32,559.52 223.28,558.54 224.47,558.77 225.39,560.18 226.41,561.39 227.55,562.45 228.78,563.39 230.07,564.02 231.48,564.45 232.98,564.8 234.5,564.99 235.99,564.98 237.48,564.86 238.97,564.67 240.47,564.42 241.96,564.15 243.45,563.87 244.94,563.61 246.42,563.35 247.89,563.06 249.37,562.75 250.84,562.44 252.31,562.12 253.79,561.83 255.27,561.55 256.75,561.3 258.24,561.07 259.73,560.84 261.22,560.62 262.7,560.38 264.19,560.14 265.67,559.88 267.15,559.61 268.63,559.32 270.11,559.03 271.58,558.73 273.05,558.42 274.52,558.1 275.99,557.78 277.46,557.43 278.92,557.07 280.38,556.7 281.84,556.34 283.3,555.99 284.77,555.65 286.24,555.33 287.71,555.03 289.19,554.74 290.67,554.45 292.15,554.16 293.62,553.87 295.1,553.58 296.58,553.28 298.05,552.99 299.53,552.69 301,552.4 302.48,552.1 303.95,551.81 305.43,551.51 306.9,551.21 308.38,550.91 309.85,550.6 311.33,550.3 312.8,550.01 314.28,549.73 315.76,549.46 317.25,549.2 318.73,548.94 320.21,548.7 321.7,548.46 323.19,548.24 324.68,548.04 326.17,547.86 327.67,547.69 329.17,547.53 330.66,547.37 332.16,547.23 333.66,547.11 335.16,546.99 336.66,546.89 338.17,546.8 339.67,546.73 341.18,546.65 342.68,546.57 344.18,546.46 345.68,546.34 347.18,546.19 348.67,546.01 350.17,545.81 351.66,545.58 353.15,545.34 354.62,545.07 356.08,544.76 357.53,544.37 358.97,543.91 360.4,543.43 361.83,542.94 363.27,542.48 364.72,542.07 366.18,541.73 367.65,541.41 369.12,541.12 370.6,540.84 372.08,540.56 373.57,540.28 375.04,539.99 376.52,539.7 377.99,539.4 379.47,539.11 380.95,538.81 382.42,538.52 383.9,538.22 385.37,537.93 386.85,537.63 388.33,537.33 389.8,537.04 391.28,536.74 392.75,536.45 394.23,536.15 395.7,535.86 397.18,535.56 398.65,535.26 400.13,534.96 401.6,534.66 403.08,534.35 404.55,534.05 406.03,533.75 407.5,533.45 408.98,533.15 410.45,532.85 411.93,532.55 413.4,532.26 414.88,531.97 416.36,531.68 417.84,531.4 419.31,531.13 420.79,530.85 422.27,530.58 423.75,530.3 425.24,530.03 426.72,529.75 428.2,529.48 429.68,529.21 431.16,528.95 432.65,528.7 434.13,528.45 435.62,528.22 437.11,527.99 438.6,527.78 440.09,527.59 441.58,527.41 443.07,527.25 444.57,527.1 446.07,526.97 447.57,526.84 449.08,526.71 450.58,526.58 452.08,526.45 453.58,526.32 455.08,526.18 456.58,526.02 458.07,525.85 459.56,525.66 461.04,525.45 462.53,525.21 464.02,524.94 465.5,524.65 466.97,524.33 468.44,523.99 469.89,523.63 471.35,523.24 472.81,522.82 474.28,522.36 475.73,521.87 477.14,521.32 478.52,520.73 479.83,520.09 481.09,519.35 482.32,518.48 483.51,517.5 484.63,516.44 485.68,515.36 486.66,514.24 487.63,513.05 488.54,511.8 489.33,510.49 489.94,509.16 490.39,507.78 490.78,506.35 491.11,504.87 491.4,503.37 491.68,501.86 491.94,500.36 492.19,498.88 492.43,497.4 492.66,495.91 492.88,494.42 493.09,492.93 493.29,491.44 493.48,489.94 493.68,488.45 493.87,486.95 494.07,485.46 494.27,483.97 494.46,482.48 494.65,480.98 494.83,479.49 495.02,478 495.2,476.5 495.38,475.01 495.57,473.52 495.75,472.02 495.93,470.53 496.12,469.04 496.31,467.54 496.49,466.05 496.68,464.56 496.87,463.06 497.05,461.57 497.24,460.07 497.43,458.58 497.61,457.09 497.8,455.59 497.99,454.1 498.17,452.61 498.36,451.11 498.54,449.62 498.72,448.13 498.91,446.63 499.09,445.14 499.27,443.64 499.46,442.15 499.65,440.66 499.85,439.17 500.04,437.67 500.24,436.18 500.45,434.69 500.65,433.2 500.86,431.71 501.07,430.22 501.29,428.73 501.51,427.24 501.73,425.75 501.96,424.27 502.19,422.78 502.44,421.29 502.68,419.81 502.94,418.33 503.19,416.84 503.46,415.36 503.73,413.88 504,412.4" fill="none" stroke="#0070c0" stroke-width="2" stroke-linejoin="round" stroke-linecap="round"/>
<polyline points="220,412.4 220,413.91 220,415.41 220.01,416.92 220.01,418.42 220.01,419.93 220.02,421.43 220.02,422.94 220.03,424.44 220.03,425.95 220.04,427.45 220.04,428.96 220.05,430.47 220.05,431.97 220.06,433.48 220.07,434.98 220.07,436.49 220.08,437.99 220.09,439.5 220.09,441 220.1,442.51 220.11,444.01 220.12,445.52 220.13,447.03 220.13,448.53 220.14,450.04 220.15,451.54 220.16,453.05 220.17,454.55 220.18,456.06 220.19,457.56 220.19,459.07 220.2,460.57 220.21,462.08 220.22,463.59 220.23,465.09 220.24,466.6 220.25,468.1 220.26,469.61 220.27,471.12 220.28,472.62 220.29,474.13 220.3,475.64 220.31,477.14 220.32,478.65 220.33,480.15 220.35,481.66 220.36,483.17 220.38,484.67 220.39,486.18 220.41,487.68 220.43,489.19 220.45,490.69 220.47,492.2 220.49,493.7 220.51,495.21 220.54,496.71 220.57,498.21 220.59,499.72 220.63,501.22 220.67,502.74 220.73,504.27 220.8,505.8 220.89,507.33 220.99,508.86 221.11,510.38 221.24,511.89 221.39,513.39 221.56,514.86 221.75,516.32 221.96,517.74 222.28,519.16 222.86,520.58 223.61,521.96 224.45,523.25 225.32,524.4 226.32,525.48 227.46,526.49 228.69,527.44 229.96,528.32 231.22,529.14 232.5,529.9 233.82,530.61 235.18,531.29 236.56,531.93 237.94,532.54 239.32,533.14 240.71,533.7 242.12,534.23 243.54,534.75 244.96,535.26 246.38,535.77 247.79,536.29 249.24,536.77 250.7,537.25 252.13,537.75 253.53,538.3 254.85,538.92 256.11,539.67 257.35,540.55 258.53,541.53 259.66,542.58 260.7,543.67 261.65,544.79 262.53,546 263.35,547.28 264.14,548.58 264.93,549.88 265.71,551.16 266.49,552.45 267.25,553.76 267.98,555.07 268.69,556.4 269.37,557.74 270.03,559.09 270.66,560.46 271.28,561.83 271.88,563.22 272.45,564.61 273,566.01 273.52,567.42 274.01,568.84 274.48,570.27 274.94,571.71 275.39,573.15 275.84,574.59 276.31,576.02 276.8,577.44 277.32,578.85 277.85,580.26 278.4,581.66 278.95,583.06 279.52,584.46 280.1,585.85 280.68,587.24 281.26,588.63 281.82,590.05 282.37,591.48 282.93,592.9 283.53,594.29 284.19,595.63 284.93,596.89 285.82,598.28 286.89,599.44 288.1,599.46 289.48,598.77 290.92,598.03 292.32,597.45 293.74,596.83 295.17,596.24 296.61,595.76 298.06,595.46 299.52,595.4 301,595.42 302.48,595.44 303.98,595.49 305.49,595.54 307,595.6 308.52,595.67 310.04,595.75 311.56,595.82 313.07,595.9 314.58,595.98 316.08,596.06 317.58,596.16 319.08,596.27 320.58,596.39 322.08,596.52 323.58,596.66 325.08,596.8 326.58,596.94 328.08,597.08 329.58,597.21 331.08,597.34 332.59,597.45 334.09,597.55 335.59,597.63 337.09,597.71 338.6,597.79 340.1,597.86 341.6,597.94 343.11,598.01 344.61,598.08 346.12,598.14 347.62,598.2 349.13,598.25 350.63,598.3 352.14,598.34 353.64,598.38 355.15,598.4 356.65,598.42 358.16,598.44 359.66,598.46 361.17,598.47 362.67,598.48 364.18,598.49 365.69,598.5 367.19,598.51 368.7,598.52 370.2,598.54 371.71,598.55 373.21,598.57 374.72,598.6 376.22,598.63 377.73,598.67 379.24,598.73 380.74,598.8 382.25,598.88 383.76,598.97 385.27,599.08 386.78,599.19 388.28,599.32 389.78,599.45 391.27,599.6 392.77,599.75 394.25,599.91 395.73,600.09 397.22,600.32 398.72,600.6 400.21,600.93 401.69,601.3 403.16,601.71 404.6,602.16 406.01,602.64 407.38,603.15 408.73,603.76 410.07,604.48 411.38,605.28 412.65,606.16 413.87,607.07 415.01,608.01 416.12,609 417.22,610.06 418.27,611.2 419.26,612.38 420.15,613.61 420.92,614.86 421.58,616.14 422.18,617.49 422.74,618.89 423.25,620.33 423.73,621.78 424.18,623.25 424.62,624.71 425.05,626.16 425.46,627.61 425.84,629.06 426.21,630.52 426.57,631.98 426.91,633.45 427.26,634.92 427.61,636.38 427.96,637.85 428.33,639.31 428.68,640.77 429.04,642.23 429.4,643.7 429.76,645.16 430.13,646.62 430.5,648.08 430.88,649.53 431.26,650.99 431.66,652.44 432.06,653.89 432.47,655.34 432.88,656.79 433.3,658.24 433.72,659.68 434.15,661.13 434.57,662.57 435,664.01 435.43,665.46 435.86,666.9 436.28,668.35 436.71,669.8 437.13,671.24 437.57,672.69 438.02,674.13 438.47,675.56 438.94,676.99 439.43,678.41 439.93,679.82 440.46,681.23 441.01,682.62 441.57,684.02 442.16,685.4 442.76,686.78 443.38,688.16 444.01,689.53 444.66,690.89 445.32,692.25 446,693.6" fill="none" stroke="#fb3d1e" stroke-width="2" stroke-linejoin="round" stroke-linecap="round"/>
<polyline points="219,684 219.01,682.49 219.02,680.98 219.04,679.47 219.05,677.96 219.06,676.45 219.07,674.94 219.09,673.43 219.1,671.92 219.11,670.41 219.12,668.9 219.14,667.39 219.15,665.88 219.16,664.37 219.18,662.86 219.19,661.35 219.21,659.84 219.22,658.33 219.23,656.82 219.25,655.31 219.26,653.81 219.28,652.3 219.29,650.79 219.31,649.28 219.32,647.77 219.34,646.26 219.35,644.75 219.37,643.24 219.38,641.73 219.4,640.22 219.41,638.71 219.43,637.2 219.44,635.69 219.46,634.18 219.47,632.67 219.49,631.16 219.5,629.65 219.52,628.14 219.53,626.63 219.54,625.12 219.56,623.61 219.57,622.1 219.59,620.59 219.6,619.08 219.62,617.57 219.63,616.06 219.65,614.55 219.67,613.04 219.68,611.53 219.7,610.02 219.72,608.51 219.74,607 219.76,605.49 219.78,603.98 219.8,602.47 219.82,600.96 219.84,599.45 219.86,597.94 219.89,596.43 219.91,594.93 219.94,593.42 219.96,591.91 219.99,590.4 220.02,588.89 220.05,587.37 220.07,585.85 220.1,584.33 220.14,582.81 220.17,581.3 220.22,579.78 220.27,578.27 220.33,576.76 220.4,575.26 220.48,573.77 220.58,572.28 220.77,570.68 221.2,569.1 221.91,568.19 223.46,567.73 224.97,567.38 226.45,567.09 227.94,566.86 229.44,566.67 230.94,566.5 232.44,566.33 233.94,566.15 235.43,565.93 236.92,565.68 238.4,565.39 239.88,565.08 241.36,564.77 242.84,564.45 244.31,564.14 245.8,563.84 247.28,563.56 248.77,563.28 250.25,563 251.73,562.71 253.21,562.41 254.68,562.08 256.14,561.7 257.59,561.28 259.03,560.82 260.47,560.35 261.91,559.88 263.35,559.44 264.81,559.05 266.27,558.71 267.75,558.4 269.23,558.12 270.72,557.84 272.21,557.56 273.69,557.28 275.17,556.96 276.64,556.63 278.11,556.29 279.58,555.94 281.04,555.58 282.51,555.21 283.97,554.84 285.43,554.46 286.89,554.09 288.36,553.71 289.82,553.33 291.28,552.95 292.74,552.57 294.21,552.2 295.67,551.83 297.14,551.47 298.6,551.11 300.07,550.75 301.54,550.4 303.01,550.04 304.47,549.68 305.94,549.33 307.41,548.96 308.87,548.6 310.34,548.23 311.8,547.85 313.26,547.47 314.71,547.08 316.17,546.68 317.62,546.26 319.07,545.83 320.51,545.4 321.96,544.95 323.4,544.5 324.84,544.05 326.28,543.6 327.72,543.15 329.17,542.7 330.61,542.26 332.06,541.83 333.51,541.42 334.96,541.01 336.42,540.62 337.88,540.23 339.34,539.85 340.8,539.48 342.27,539.12 343.73,538.75 345.2,538.39 346.67,538.04 348.13,537.68 349.6,537.33 351.07,536.97 352.54,536.61 354,536.25 355.47,535.88 356.93,535.51 358.39,535.14 359.86,534.76 361.32,534.38 362.78,534 364.24,533.62 365.71,533.25 367.17,532.88 368.63,532.51 370.1,532.15 371.57,531.79 373.04,531.45 374.51,531.11 375.98,530.78 377.45,530.46 378.93,530.14 380.41,529.83 381.89,529.52 383.37,529.22 384.85,528.92 386.33,528.63 387.81,528.34 389.29,528.05 390.78,527.77 392.26,527.5 393.75,527.23 395.23,526.96 396.72,526.7 398.21,526.45 399.7,526.21 401.19,525.97 402.68,525.74 404.17,525.51 405.67,525.28 407.16,525.06 408.65,524.83 410.15,524.61 411.64,524.38 413.13,524.15 414.62,523.91 416.11,523.67 417.6,523.42 419.09,523.16 420.57,522.9 422.06,522.63 423.55,522.35 425.03,522.07 426.51,521.77 427.99,521.46 429.46,521.13 430.93,520.78 432.43,520.42 433.93,520.05 435.42,519.65 436.88,519.21 438.29,518.72 439.63,518.17 440.92,517.51 442.2,516.68 443.44,515.7 444.58,514.64 445.59,513.52 446.46,512.36 447.25,511.08 447.97,509.7 448.58,508.28 449.04,506.86 449.41,505.43 449.75,503.96 450.04,502.48 450.3,500.98 450.54,499.47 450.75,497.96 450.94,496.45 451.12,494.96 451.28,493.46 451.42,491.96 451.56,490.46 451.68,488.95 451.8,487.44 451.91,485.94 452.03,484.43 452.15,482.92 452.27,481.42 452.41,479.91 452.55,478.41 452.69,476.91 452.84,475.4 452.99,473.9 453.14,472.4 453.29,470.9 453.44,469.39 453.59,467.89 453.75,466.39 453.91,464.89 454.06,463.39 454.23,461.89 454.39,460.39 454.55,458.88 454.72,457.38 454.89,455.88 455.06,454.38 455.23,452.88 455.4,451.38 455.56,449.88 455.73,448.38 455.9,446.88 456.07,445.38 456.23,443.88 456.4,442.38 456.56,440.88 456.72,439.38 456.89,437.88 457.05,436.38 457.21,434.87 457.38,433.37 457.55,431.87 457.72,430.37 457.9,428.87 458.07,427.37 458.26,425.88 458.44,424.38 458.63,422.88 458.82,421.38 459.01,419.88 459.2,418.39 459.4,416.89 459.6,415.39 459.8,413.9 460,412.4" fill="none" stroke="#fb3d1e" stroke-width="2" stroke-linejoin="round" stroke-linecap="round"/>
<polyline points="220,436 220,437.51 220.01,439.01 220.01,440.52 220.02,442.03 220.02,443.53 220.03,445.04 220.04,446.55 220.04,448.05 220.05,449.56 220.06,451.07 220.07,452.58 220.08,454.08 220.09,455.59 220.1,457.1 220.11,458.6 220.12,460.11 220.13,461.62 220.14,463.12 220.16,464.63 220.17,466.14 220.18,467.64 220.19,469.15 220.21,470.66 220.22,472.16 220.23,473.67 220.24,475.18 220.26,476.69 220.27,478.19 220.29,479.7 220.3,481.21 220.32,482.71 220.33,484.22 220.35,485.73 220.37,487.24 220.39,488.74 220.41,490.25 220.44,491.76 220.46,493.26 220.49,494.77 220.52,496.27 220.55,497.78 220.58,499.29 220.62,500.79 220.66,502.3 220.72,503.82 220.78,505.34 220.85,506.86 220.93,508.38 221.03,509.9 221.13,511.41 221.25,512.92 221.38,514.42 221.52,515.91 221.68,517.4 221.85,518.86 222.05,520.32 222.36,521.79 222.8,523.27 223.36,524.72 224,526.12 224.68,527.44 225.42,528.66 226.33,529.82 227.38,530.92 228.53,531.98 229.72,532.98 230.91,533.93 232.09,534.81 233.34,535.64 234.63,536.43 235.94,537.19 237.26,537.95 238.56,538.73 239.84,539.52 241.13,540.31 242.42,541.09 243.71,541.88 244.98,542.68 246.25,543.49 247.49,544.34 248.75,545.18 250.02,546.04 251.27,546.92 252.49,547.82 253.65,548.76 254.75,549.75 255.77,550.81 256.74,551.94 257.68,553.13 258.57,554.36 259.44,555.62 260.28,556.89 261.1,558.16 261.91,559.43 262.71,560.71 263.47,562.02 264.19,563.35 264.86,564.69 265.47,566.06 266.04,567.44 266.58,568.85 267.1,570.27 267.59,571.7 268.07,573.14 268.54,574.57 269,576.01 269.45,577.45 269.87,578.89 270.27,580.35 270.66,581.81 271.04,583.27 271.43,584.72 271.83,586.18 272.25,587.63 272.69,589.06 273.17,590.49 273.66,591.92 274.16,593.34 274.7,594.77 275.25,596.18 275.84,597.57 276.47,598.93 277.13,600.26 277.85,601.63 278.62,603.01 279.46,604.31 280.4,605.44 281.46,606.36 282.76,607.26 284.2,607.89 285.63,608 287.09,607.96 288.59,607.91 290.11,607.83 291.64,607.75 293.18,607.68 294.7,607.61 296.21,607.56 297.71,607.5 299.22,607.44 300.72,607.38 302.23,607.32 303.74,607.26 305.24,607.2 306.75,607.15 308.26,607.11 309.76,607.07 311.27,607.04 312.77,607.01 314.28,607 315.79,607 317.29,607.02 318.8,607.06 320.3,607.11 321.81,607.17 323.31,607.25 324.82,607.34 326.32,607.43 327.83,607.52 329.33,607.63 330.84,607.73 332.34,607.83 333.85,607.93 335.35,608.02 336.85,608.12 338.36,608.21 339.86,608.31 341.37,608.42 342.87,608.53 344.37,608.64 345.88,608.76 347.38,608.88 348.88,609.01 350.38,609.15 351.88,609.29 353.38,609.43 354.88,609.59 356.37,609.75 357.87,609.92 359.37,610.11 360.87,610.3 362.37,610.51 363.86,610.73 365.35,610.96 366.84,611.21 368.32,611.48 369.8,611.76 371.26,612.05 372.74,612.38 374.21,612.75 375.68,613.15 377.14,613.59 378.57,614.07 379.97,614.59 381.34,615.14 382.7,615.78 384.06,616.5 385.39,617.29 386.67,618.14 387.87,619.05 388.99,619.99 390.03,621.01 391.03,622.12 391.99,623.32 392.89,624.58 393.74,625.86 394.53,627.16 395.25,628.46 395.93,629.78 396.58,631.13 397.19,632.51 397.77,633.92 398.33,635.33 398.86,636.76 399.37,638.19 399.87,639.61 400.35,641.03 400.81,642.46 401.26,643.9 401.69,645.35 402.11,646.8 402.51,648.25 402.91,649.71 403.29,651.17 403.66,652.63 404.02,654.09 404.37,655.56 404.71,657.03 405.03,658.5 405.34,659.97 405.65,661.45 405.95,662.93 406.25,664.4 406.55,665.88 406.86,667.35 407.18,668.83 407.48,670.31 407.78,671.78 408.08,673.26 408.38,674.74 408.68,676.22 408.99,677.69 409.32,679.16 409.66,680.63 410.02,682.09 410.41,683.54 410.81,684.99 411.24,686.44 411.68,687.88 412.14,689.31 412.61,690.75 413.1,692.17 413.6,693.6" fill="none" stroke="#705098" stroke-width="2" stroke-linejoin="round" stroke-linecap="round"/>
<polyline points="222,672 221.97,670.49 221.95,668.98 221.92,667.47 221.89,665.96 221.86,664.46 221.84,662.95 221.81,661.44 221.79,659.93 221.76,658.42 221.74,656.91 221.72,655.4 221.7,653.89 221.68,652.39 221.66,650.88 221.65,649.37 221.63,647.86 221.62,646.35 221.61,644.84 221.61,643.33 221.6,641.82 221.6,640.31 221.6,638.81 221.6,637.3 221.6,635.79 221.6,634.28 221.6,632.77 221.6,631.26 221.6,629.75 221.6,628.24 221.6,626.73 221.6,625.22 221.6,623.72 221.6,622.21 221.6,620.7 221.6,619.19 221.6,617.68 221.6,616.17 221.6,614.66 221.6,613.15 221.6,611.64 221.6,610.13 221.6,608.63 221.6,607.12 221.6,605.61 221.6,604.1 221.6,602.59 221.6,601.08 221.6,599.57 221.6,598.06 221.6,596.55 221.61,595.04 221.61,593.53 221.62,592.02 221.63,590.51 221.64,589 221.65,587.49 221.66,585.98 221.68,584.47 221.69,582.96 221.71,581.45 221.73,579.95 221.76,578.44 221.78,576.93 221.81,575.43 221.9,573.88 222.04,572.32 222.24,570.81 222.51,569.39 223.03,568.07 224.08,566.87 225.23,565.9 226.58,565.13 227.98,564.8 229.45,564.58 230.96,564.43 232.5,564.29 234.02,564.13 235.52,563.92 237.01,563.67 238.5,563.4 239.98,563.11 241.46,562.81 242.94,562.48 244.4,562.14 245.87,561.79 247.33,561.41 248.79,561.02 250.25,560.59 251.7,560.15 253.13,559.67 254.54,559.17 255.94,558.63 257.31,558.02 258.66,557.36 260,556.66 261.34,555.94 262.67,555.22 264.01,554.51 265.36,553.82 266.7,553.14 268.04,552.44 269.39,551.75 270.73,551.06 272.08,550.38 273.43,549.72 274.8,549.09 276.18,548.49 277.57,547.91 278.97,547.35 280.38,546.8 281.79,546.25 283.2,545.71 284.6,545.16 286,544.59 287.4,544.01 288.79,543.43 290.19,542.85 291.59,542.28 292.99,541.73 294.4,541.21 295.83,540.72 297.27,540.28 298.72,539.86 300.18,539.45 301.63,539.04 303.08,538.62 304.52,538.16 305.94,537.66 307.34,537.12 308.74,536.54 310.13,535.94 311.52,535.35 312.92,534.78 314.32,534.24 315.75,533.75 317.18,533.29 318.63,532.85 320.07,532.43 321.53,532.01 322.98,531.59 324.43,531.17 325.87,530.74 327.32,530.29 328.76,529.84 330.2,529.4 331.64,528.96 333.09,528.53 334.54,528.12 336,527.74 337.46,527.38 338.93,527.03 340.4,526.69 341.87,526.35 343.34,526 344.81,525.65 346.27,525.28 347.74,524.9 349.2,524.52 350.66,524.14 352.12,523.76 353.57,523.37 355.03,522.99 356.49,522.61 357.95,522.21 359.41,521.82 360.87,521.43 362.33,521.05 363.79,520.68 365.26,520.34 366.73,520.03 368.21,519.73 369.7,519.45 371.18,519.17 372.66,518.88 374.14,518.58 375.62,518.26 377.09,517.94 378.56,517.6 380.03,517.25 381.5,516.9 382.96,516.53 384.42,516.15 385.88,515.77 387.34,515.38 388.8,514.98 390.26,514.56 391.71,514.13 393.14,513.66 394.56,513.17 395.96,512.63 397.39,512.05 398.81,511.43 400.19,510.75 401.51,510.01 402.72,509.21 403.85,508.3 404.94,507.24 405.98,506.07 406.91,504.82 407.71,503.54 408.37,502.24 408.96,500.88 409.49,499.46 409.97,498 410.4,496.52 410.77,495.04 411.09,493.57 411.37,492.1 411.63,490.62 411.87,489.13 412.09,487.63 412.29,486.13 412.48,484.63 412.66,483.12 412.83,481.62 412.99,480.12 413.14,478.62 413.28,477.12 413.42,475.62 413.55,474.11 413.67,472.61 413.79,471.1 413.9,469.6 414.02,468.09 414.12,466.59 414.23,465.08 414.34,463.57 414.45,462.07 414.56,460.56 414.67,459.06 414.78,457.55 414.89,456.05 415,454.54 415.1,453.04 415.21,451.53 415.31,450.03 415.41,448.52 415.52,447.02 415.62,445.51 415.72,444.01 415.83,442.5 415.93,441 416.04,439.49 416.14,437.98 416.24,436.48 416.35,434.97 416.45,433.47 416.55,431.96 416.66,430.46 416.76,428.95 416.86,427.45 416.97,425.94 417.08,424.44 417.18,422.93 417.29,421.43 417.41,419.92 417.52,418.42 417.64,416.91 417.76,415.41 417.88,413.9 418,412.4" fill="none" stroke="#705098" stroke-width="2" stroke-linejoin="round" stroke-linecap="round"/>
<polyline points="220,446 220,447.51 220,449.02 220.01,450.52 220.01,452.03 220.01,453.54 220.02,455.05 220.03,456.56 220.03,458.07 220.04,459.57 220.05,461.08 220.06,462.59 220.07,464.1 220.08,465.61 220.09,467.11 220.1,468.62 220.11,470.13 220.13,471.64 220.14,473.15 220.15,474.66 220.17,476.16 220.18,477.67 220.19,479.18 220.21,480.69 220.22,482.2 220.24,483.7 220.25,485.21 220.27,486.72 220.29,488.23 220.31,489.74 220.33,491.25 220.35,492.76 220.38,494.27 220.4,495.77 220.43,497.28 220.47,498.79 220.5,500.3 220.54,501.8 220.58,503.31 220.63,504.81 220.68,506.33 220.76,507.84 220.85,509.36 220.95,510.87 221.07,512.39 221.2,513.9 221.35,515.41 221.51,516.91 221.69,518.4 221.89,519.89 222.1,521.36 222.35,522.82 222.71,524.29 223.17,525.76 223.71,527.21 224.32,528.6 224.96,529.92 225.7,531.17 226.58,532.37 227.58,533.52 228.64,534.64 229.73,535.74 230.82,536.81 231.89,537.86 233,538.87 234.15,539.86 235.31,540.82 236.47,541.79 237.63,542.77 238.75,543.77 239.86,544.8 240.96,545.83 242.06,546.88 243.14,547.93 244.21,549 245.26,550.08 246.28,551.19 247.27,552.31 248.26,553.46 249.24,554.63 250.2,555.82 251.11,557.03 251.97,558.27 252.75,559.54 253.43,560.85 254.05,562.2 254.61,563.6 255.14,565.02 255.66,566.45 256.18,567.89 256.72,569.3 257.3,570.7 257.91,572.08 258.53,573.46 259.14,574.84 259.71,576.23 260.23,577.64 260.72,579.06 261.19,580.5 261.64,581.94 262.07,583.38 262.5,584.83 262.92,586.28 263.34,587.73 263.76,589.18 264.18,590.63 264.59,592.09 264.98,593.55 265.36,595.02 265.74,596.49 266.12,597.95 266.52,599.41 266.94,600.86 267.4,602.28 267.89,603.69 268.42,605.1 269.01,606.51 269.64,607.9 270.33,609.27 271.07,610.58 271.88,611.82 272.77,613.03 273.79,614.23 274.92,615.28 276.12,616.06 277.47,616.71 278.93,617.26 280.44,617.57 281.91,617.59 283.39,617.55 284.89,617.48 286.4,617.4 287.91,617.3 289.43,617.21 290.95,617.12 292.47,617.05 293.99,617.01 295.49,617 297,617 298.51,617 300.02,617 301.53,617 303.04,617 304.54,617 306.05,617 307.56,617 309.07,617 310.58,617 312.09,617 313.59,617 315.1,617 316.61,617.01 318.12,617.03 319.63,617.07 321.14,617.11 322.65,617.17 324.16,617.24 325.67,617.32 327.18,617.41 328.69,617.51 330.19,617.62 331.69,617.73 333.19,617.85 334.69,617.97 336.18,618.12 337.68,618.33 339.18,618.58 340.68,618.89 342.16,619.23 343.61,619.61 345.04,620.01 346.45,620.49 347.86,621.07 349.25,621.74 350.6,622.47 351.89,623.26 353.12,624.08 354.29,624.98 355.42,625.99 356.5,627.08 357.54,628.22 358.51,629.38 359.42,630.55 360.29,631.77 361.13,633.02 361.92,634.31 362.69,635.63 363.43,636.96 364.14,638.3 364.83,639.65 365.48,641 366.11,642.36 366.72,643.74 367.31,645.13 367.88,646.53 368.43,647.94 368.98,649.35 369.52,650.76 370.06,652.17 370.6,653.57 371.14,654.99 371.67,656.4 372.19,657.81 372.7,659.23 373.21,660.66 373.7,662.08 374.19,663.51 374.66,664.94 375.12,666.38 375.56,667.82 375.97,669.27 376.38,670.72 376.77,672.18 377.16,673.64 377.56,675.09 377.96,676.55 378.38,678 378.82,679.44 379.28,680.87 379.76,682.3 380.25,683.72 380.75,685.15 381.26,686.56 381.79,687.98 382.33,689.39 382.87,690.8 383.43,692.2 384,693.6" fill="none" stroke="#70a48c" stroke-width="2" stroke-linejoin="round" stroke-linecap="round"/>
<polyline points="220.6,693.6 220.61,692.09 220.61,690.59 220.62,689.08 220.62,687.57 220.63,686.07 220.63,684.56 220.64,683.05 220.64,681.55 220.65,680.04 220.65,678.54 220.66,677.03 220.67,675.52 220.67,674.02 220.68,672.51 220.68,671 220.69,669.5 220.69,667.99 220.7,666.48 220.71,664.98 220.71,663.47 220.72,661.96 220.72,660.46 220.73,658.95 220.73,657.44 220.74,655.94 220.74,654.43 220.75,652.92 220.76,651.42 220.76,649.91 220.77,648.41 220.77,646.9 220.78,645.39 220.79,643.89 220.79,642.38 220.8,640.87 220.8,639.37 220.81,637.86 220.81,636.35 220.82,634.85 220.82,633.34 220.83,631.83 220.83,630.33 220.84,628.82 220.84,627.31 220.85,625.81 220.85,624.3 220.85,622.79 220.86,621.29 220.86,619.78 220.87,618.28 220.87,616.77 220.88,615.26 220.88,613.76 220.89,612.25 220.89,610.74 220.9,609.24 220.9,607.73 220.91,606.22 220.92,604.72 220.92,603.21 220.93,601.7 220.94,600.2 220.95,598.69 220.95,597.18 220.96,595.68 220.97,594.17 220.98,592.67 220.99,591.16 221,589.65 221.01,588.14 221.03,586.64 221.04,585.12 221.06,583.61 221.08,582.1 221.1,580.59 221.13,579.08 221.16,577.57 221.2,576.07 221.24,574.56 221.29,573.06 221.34,571.56 221.4,570.07 221.51,568.53 221.72,566.94 222.02,565.41 222.43,564.04 223.11,562.89 224.41,561.91 225.72,561.29 227.09,560.8 228.53,560.39 230.02,560.04 231.53,559.72 233.05,559.41 234.55,559.1 236.03,558.78 237.51,558.49 239,558.23 240.49,557.96 241.98,557.69 243.45,557.38 244.9,557.03 246.33,556.61 247.76,556.13 249.17,555.6 250.58,555.03 251.97,554.42 253.34,553.79 254.7,553.14 256.04,552.48 257.35,551.75 258.65,550.99 259.93,550.2 261.21,549.38 262.48,548.57 263.76,547.76 265.05,546.97 266.34,546.2 267.63,545.42 268.92,544.65 270.22,543.87 271.51,543.1 272.8,542.32 274.09,541.55 275.38,540.77 276.67,539.99 277.95,539.19 279.24,538.4 280.52,537.61 281.81,536.83 283.11,536.07 284.42,535.32 285.74,534.6 287.07,533.91 288.41,533.23 289.76,532.56 291.12,531.9 292.48,531.24 293.83,530.58 295.18,529.91 296.52,529.23 297.86,528.53 299.2,527.84 300.54,527.15 301.89,526.47 303.24,525.81 304.61,525.18 305.98,524.57 307.36,523.97 308.75,523.38 310.15,522.81 311.55,522.26 312.96,521.73 314.38,521.22 315.8,520.73 317.24,520.27 318.68,519.83 320.12,519.41 321.57,519 323.02,518.58 324.47,518.16 325.91,517.72 327.35,517.27 328.79,516.81 330.23,516.35 331.67,515.91 333.11,515.49 334.57,515.11 336.03,514.76 337.5,514.46 338.98,514.17 340.47,513.9 341.95,513.62 343.43,513.33 344.9,513.02 346.37,512.68 347.83,512.32 349.29,511.95 350.75,511.57 352.21,511.17 353.66,510.77 355.11,510.37 356.56,509.97 358.02,509.57 359.48,509.16 360.92,508.72 362.34,508.24 363.75,507.72 365.17,507.15 366.59,506.53 367.98,505.86 369.3,505.13 370.53,504.34 371.66,503.46 372.75,502.42 373.78,501.27 374.73,500.03 375.57,498.75 376.28,497.47 376.93,496.13 377.53,494.73 378.06,493.3 378.53,491.84 378.91,490.38 379.22,488.93 379.5,487.46 379.74,485.98 379.97,484.49 380.17,482.99 380.36,481.49 380.54,479.98 380.71,478.47 380.89,476.97 381.06,475.48 381.23,473.98 381.4,472.48 381.56,470.98 381.72,469.49 381.87,467.99 382.02,466.49 382.16,464.99 382.3,463.49 382.43,461.99 382.56,460.48 382.68,458.98 382.8,457.48 382.91,455.98 383.02,454.48 383.13,452.97 383.23,451.47 383.33,449.97 383.43,448.47 383.53,446.96 383.63,445.46 383.73,443.96 383.83,442.45 383.93,440.95 384.04,439.45 384.14,437.94 384.25,436.44 384.35,434.94 384.45,433.43 384.56,431.93 384.66,430.43 384.76,428.92 384.87,427.42 384.97,425.92 385.08,424.42 385.19,422.91 385.3,421.41 385.41,419.91 385.52,418.41 385.64,416.91 385.76,415.4 385.88,413.9 386,412.4" fill="none" stroke="#70a48c" stroke-width="2" stroke-linejoin="round" stroke-linecap="round"/>
<polyline points="220.4,474 220.42,475.52 220.43,477.03 220.45,478.55 220.47,480.06 220.49,481.58 220.52,483.09 220.54,484.61 220.57,486.12 220.59,487.63 220.62,489.15 220.65,490.66 220.68,492.18 220.71,493.69 220.75,495.21 220.78,496.72 220.82,498.24 220.86,499.75 220.91,501.27 220.96,502.78 221.01,504.3 221.07,505.81 221.14,507.32 221.21,508.84 221.29,510.36 221.38,511.87 221.47,513.38 221.58,514.9 221.69,516.41 221.82,517.91 221.95,519.42 222.09,520.92 222.26,522.43 222.47,523.94 222.69,525.45 222.95,526.95 223.23,528.44 223.53,529.93 223.86,531.4 224.22,532.85 224.67,534.29 225.19,535.71 225.77,537.13 226.37,538.53 226.97,539.93 227.58,541.31 228.23,542.67 228.91,544.03 229.61,545.38 230.32,546.72 231.03,548.06 231.76,549.38 232.51,550.7 233.27,552.01 234.03,553.32 234.79,554.63 235.55,555.95 236.31,557.26 237.07,558.57 237.83,559.88 238.57,561.2 239.29,562.53 240,563.87 240.71,565.22 241.4,566.57 242.07,567.93 242.7,569.3 243.29,570.69 243.84,572.1 244.36,573.52 244.87,574.95 245.36,576.38 245.85,577.82 246.34,579.26 246.84,580.69 247.35,582.12 247.86,583.55 248.37,584.98 248.86,586.41 249.34,587.85 249.79,589.29 250.21,590.74 250.61,592.2 251,593.67 251.37,595.13 251.73,596.61 252.09,598.08 252.43,599.56 252.78,601.04 253.12,602.51 253.45,603.99 253.78,605.47 254.1,606.95 254.41,608.43 254.72,609.92 255.03,611.4 255.34,612.88 255.65,614.37 255.97,615.85 256.28,617.33 256.59,618.81 256.89,620.3 257.2,621.78 257.5,623.27 257.81,624.75 258.13,626.23 258.46,627.71 258.8,629.19 259.16,630.66 259.52,632.13 259.88,633.62 260.26,635.1 260.64,636.57 261.04,638.05 261.47,639.5 261.92,640.95 262.4,642.37 262.91,643.77 263.47,645.17 264.09,646.6 264.76,648.03 265.49,649.42 266.28,650.74 267.13,651.96 268.04,653.04 269.08,654.1 270.26,655.16 271.56,656.14 272.93,656.94 274.32,657.47 275.73,657.69 277.22,657.83 278.77,657.94 280.31,657.99 281.81,657.96 283.29,657.71 284.75,657.31 286.21,656.83 287.68,656.35 289.15,655.97 290.63,655.62 292.11,655.26 293.59,654.91 295.08,654.59 296.56,654.31 298.06,654.09 299.56,653.96 301.08,653.84 302.61,653.75 304.14,653.67 305.65,653.62 307.12,653.6 308.59,653.84 310.05,654.38 311.46,655.1 312.78,655.87 313.99,656.66 315.14,657.63 316.24,658.71 317.28,659.88 318.27,661.07 319.2,662.26 320.07,663.47 320.9,664.72 321.69,666.02 322.46,667.34 323.2,668.68 323.93,670.02 324.65,671.36 325.38,672.69 326.1,674.03 326.81,675.37 327.51,676.72 328.19,678.07 328.85,679.44 329.48,680.81 330.08,682.2 330.66,683.59 331.22,685 331.77,686.41 332.3,687.83 332.8,689.26 333.29,690.7 333.76,692.14 334.2,693.6" fill="none" stroke="#000" stroke-width="2" stroke-linejoin="round" stroke-linecap="round"/>
<polyline points="220.2,693.6 220.21,692.09 220.22,690.58 220.23,689.06 220.24,687.55 220.25,686.04 220.26,684.53 220.27,683.02 220.28,681.51 220.28,679.99 220.29,678.48 220.3,676.97 220.31,675.46 220.32,673.95 220.33,672.44 220.34,670.92 220.35,669.41 220.36,667.9 220.36,666.39 220.37,664.88 220.38,663.36 220.39,661.85 220.4,660.34 220.41,658.83 220.41,657.32 220.42,655.81 220.43,654.29 220.44,652.78 220.44,651.27 220.45,649.76 220.46,648.25 220.47,646.73 220.47,645.22 220.48,643.71 220.49,642.2 220.5,640.69 220.5,639.18 220.51,637.66 220.52,636.15 220.52,634.64 220.53,633.13 220.54,631.62 220.55,630.1 220.55,628.59 220.56,627.08 220.57,625.57 220.58,624.06 220.59,622.55 220.59,621.03 220.6,619.52 220.61,618.01 220.62,616.5 220.63,614.99 220.63,613.47 220.64,611.96 220.65,610.45 220.66,608.94 220.67,607.43 220.67,605.92 220.68,604.4 220.69,602.89 220.7,601.38 220.71,599.87 220.72,598.36 220.73,596.84 220.75,595.33 220.76,593.82 220.78,592.31 220.79,590.8 220.81,589.29 220.83,587.77 220.85,586.26 220.88,584.75 220.91,583.23 220.94,581.72 220.98,580.21 221.03,578.7 221.08,577.19 221.13,575.68 221.19,574.17 221.27,572.66 221.37,571.13 221.5,569.6 221.65,568.06 221.84,566.54 222.05,565.02 222.29,563.53 222.56,562.06 222.86,560.63 223.22,559.24 223.79,557.86 224.53,556.52 225.39,555.21 226.3,553.95 227.19,552.75 228.15,551.6 229.18,550.5 230.28,549.43 231.41,548.4 232.55,547.39 233.69,546.42 234.87,545.48 236.08,544.58 237.31,543.69 238.55,542.81 239.78,541.92 240.99,541.01 242.18,540.09 243.38,539.16 244.57,538.22 245.75,537.29 246.94,536.34 248.11,535.39 249.28,534.44 250.44,533.47 251.59,532.49 252.73,531.49 253.85,530.48 254.97,529.46 256.08,528.43 257.19,527.4 258.3,526.38 259.43,525.37 260.56,524.37 261.71,523.39 262.87,522.41 264.02,521.43 265.19,520.46 266.36,519.5 267.54,518.56 268.74,517.63 269.95,516.74 271.18,515.87 272.43,515.04 273.71,514.22 274.99,513.43 276.29,512.65 277.61,511.89 278.93,511.14 280.25,510.41 281.58,509.69 282.91,508.96 284.24,508.24 285.59,507.55 286.95,506.89 288.33,506.27 289.73,505.72 291.15,505.22 292.59,504.75 294.04,504.3 295.48,503.85 296.93,503.41 298.38,502.98 299.83,502.55 301.28,502.12 302.73,501.69 304.17,501.24 305.62,500.8 307.08,500.36 308.52,499.9 309.94,499.4 311.34,498.86 312.75,498.27 314.15,497.63 315.5,496.93 316.77,496.16 317.96,495.28 319.1,494.28 320.18,493.18 321.19,492.02 322.12,490.85 322.98,489.62 323.79,488.34 324.55,487.01 325.25,485.65 325.88,484.28 326.45,482.89 327,481.48 327.51,480.04 327.96,478.59 328.35,477.12 328.67,475.66 328.94,474.18 329.17,472.69 329.39,471.19 329.58,469.68 329.76,468.17 329.93,466.67 330.09,465.17 330.25,463.66 330.4,462.16 330.54,460.65 330.68,459.15 330.81,457.64 330.93,456.13 331.05,454.63 331.17,453.12 331.28,451.61 331.39,450.1 331.5,448.6 331.6,447.09 331.69,445.58 331.78,444.07 331.87,442.56 331.95,441.05 332.03,439.54 332.12,438.03 332.2,436.52 332.29,435.01 332.38,433.5 332.47,431.99 332.57,430.48 332.67,428.98 332.78,427.47 332.89,425.96 333,424.45 333.12,422.95 333.24,421.44 333.36,419.93 333.48,418.43 333.61,416.92 333.74,415.41 333.87,413.91 334,412.4" fill="none" stroke="#000" stroke-width="2" stroke-linejoin="round" stroke-linecap="round"/>
</g>
<path d="M219.6 694v6.4M314.85 694v6.4M410.1 694v6.4M505.35 694v6.4M600.6 694v6.4M267.23 694v3.9M362.48 694v3.9M457.73 694v3.9M552.98 694v3.9" stroke="#000" stroke-width="2.2" fill="none"/>
<path d="M219.6 694h-6.4M219.6 600h-6.4M219.6 506h-6.4M219.6 412h-6.4M219.6 647h-3.9M219.6 553h-3.9M219.6 459h-3.9" stroke="#000" stroke-width="2.2" fill="none"/>
<text transform="translate(210.8 699.9) scale(0.98 1)" font-size="21.96" text-anchor="end">1.8</text>
<text transform="translate(210.8 605.9) scale(0.98 1)" font-size="21.96" text-anchor="end">2.1</text>
<text transform="translate(210.8 511.9) scale(0.98 1)" font-size="21.96" text-anchor="end">2.4</text>
<text transform="translate(210.8 417.9) scale(0.98 1)" font-size="21.96" text-anchor="end">2.7</text>
<text transform="translate(219.9 719.7) scale(0.98 1)" font-size="21.96" text-anchor="middle">0</text>
<text transform="translate(315.15 719.7) scale(0.98 1)" font-size="21.96" text-anchor="middle">400</text>
<text transform="translate(410.4 719.7) scale(0.98 1)" font-size="21.96" text-anchor="middle">800</text>
<text transform="translate(505.65 719.7) scale(0.98 1)" font-size="21.96" text-anchor="middle">1200</text>
<text transform="translate(600.9 719.7) scale(0.98 1)" font-size="21.96" text-anchor="middle">1600</text>
<text transform="translate(417 741.5) scale(0.98 1)" font-size="23.26" text-anchor="middle">Specific capacity (mAh g <tspan font-size="62%" dy="-0.61em">&#8211;1</tspan><tspan dy="0.38em">&#8203;</tspan>)</text>
<text transform="translate(158.3 551.2) rotate(-90) scale(1 1)" font-size="23.26" text-anchor="middle">Voltage (V vs. Li/Li<tspan font-size="62%" dy="-0.61em">+</tspan><tspan dy="0.38em">&#8203;</tspan>)</text>
<text transform="translate(134 400.5)" font-size="37" font-weight="bold">c</text>
<text transform="translate(348.7 571.5) scale(0.98 1)" font-size="20.91">2,</text>
<text transform="translate(371.2 571.5) scale(0.98 1)" font-size="20.91"><tspan fill="#70a48c">1</tspan>,</text>
<text transform="translate(395.3 571.5) scale(0.98 1)" font-size="20.91"><tspan fill="#705098">0.6</tspan>,</text>
<text transform="translate(435.1 571.5) scale(0.98 1)" font-size="20.91"><tspan fill="#fb3d1e">0.4</tspan>,</text>
<text transform="translate(475 571.5) scale(0.98 1)" font-size="20.91"><tspan fill="#0070c0">0.2</tspan></text>
<text transform="translate(508.3 571.5) scale(0.98 1)" font-size="20.91">mA</text>
<text transform="translate(546.4 571.5) scale(0.98 1)" font-size="20.91">cm<tspan font-size="62%" dy="-0.61em">&#8722;2</tspan><tspan dy="0.38em">&#8203;</tspan></text>
<line x1="345" y1="581.6" x2="591" y2="581.6" stroke="#3a3a3a" stroke-width="1"/>
<path d="M334.4 581.6L346.2 575.7V587.5Z" fill="#000"/>
</g>
<g id="panel-d">
<line x1="822.65" y1="410.8" x2="822.65" y2="648.5" stroke="#000" stroke-width="1.3" stroke-dasharray="4.8 2.25"/>
<line x1="915.65" y1="410.8" x2="915.65" y2="648.5" stroke="#000" stroke-width="1.3" stroke-dasharray="4.8 2.25"/>
<line x1="1008.65" y1="410.8" x2="1008.65" y2="648.5" stroke="#000" stroke-width="1.3" stroke-dasharray="4.8 2.25"/>
<g fill="#fff" stroke="#000" stroke-width="1.15">
<circle cx="732.5" cy="460.67" r="3.0"/>
<circle cx="741.8" cy="459.33" r="3.0"/>
<circle cx="751.1" cy="460" r="3.0"/>
<circle cx="760.4" cy="459.33" r="3.0"/>
<circle cx="769.7" cy="460" r="3.0"/>
<circle cx="779" cy="459.33" r="3.0"/>
<circle cx="788.3" cy="460.33" r="3.0"/>
<circle cx="797.6" cy="460.33" r="3.0"/>
<circle cx="806.9" cy="460.33" r="3.0"/>
<circle cx="816.2" cy="461" r="3.0"/>
<circle cx="825.5" cy="464.67" r="3.0"/>
<circle cx="834.8" cy="462.67" r="3.0"/>
<circle cx="844.1" cy="462.33" r="3.0"/>
<circle cx="853.4" cy="463.33" r="3.0"/>
<circle cx="862.7" cy="463" r="3.0"/>
<circle cx="872" cy="463.33" r="3.0"/>
<circle cx="881.3" cy="463" r="3.0"/>
<circle cx="890.6" cy="465" r="3.0"/>
<circle cx="899.9" cy="465.67" r="3.0"/>
<circle cx="909.2" cy="464.33" r="3.0"/>
<circle cx="918.5" cy="474.33" r="3.0"/>
<circle cx="927.8" cy="478.67" r="3.0"/>
<circle cx="937.1" cy="473.67" r="3.0"/>
<circle cx="946.4" cy="468.33" r="3.0"/>
<circle cx="955.7" cy="477.67" r="3.0"/>
<circle cx="965" cy="468" r="3.0"/>
<circle cx="974.3" cy="468.67" r="3.0"/>
<circle cx="983.6" cy="467.67" r="3.0"/>
<circle cx="992.9" cy="467.33" r="3.0"/>
<circle cx="1002.2" cy="467.67" r="3.0"/>
<circle cx="1011.5" cy="452.67" r="3.0"/>
<circle cx="1020.8" cy="469.33" r="3.0"/>
<circle cx="1030.1" cy="490.33" r="3.0"/>
<circle cx="1039.4" cy="467" r="3.0"/>
<circle cx="1048.7" cy="460.33" r="3.0"/>
<circle cx="1058" cy="457" r="3.0"/>
<circle cx="1067.3" cy="488.33" r="3.0"/>
<circle cx="1076.6" cy="465.67" r="3.0"/>
<circle cx="1085.9" cy="568.33" r="3.0"/>
<circle cx="1095.2" cy="490.33" r="3.0"/>
</g>
<g fill="#fff" stroke="#007dc3" stroke-width="1.0">
<rect x="730.2" y="458.5" width="6" height="6"/>
<rect x="739.5" y="458.5" width="6" height="6"/>
<rect x="748.8" y="456.83" width="6" height="6"/>
<rect x="758.1" y="457.5" width="6" height="6"/>
<rect x="767.4" y="458.5" width="6" height="6"/>
<rect x="776.7" y="458.17" width="6" height="6"/>
<rect x="786" y="458.5" width="6" height="6"/>
<rect x="795.3" y="458.17" width="6" height="6"/>
<rect x="804.6" y="458.17" width="6" height="6"/>
<rect x="813.9" y="457.5" width="6" height="6"/>
<rect x="823.2" y="458.17" width="6" height="6"/>
<rect x="832.5" y="457.83" width="6" height="6"/>
<rect x="841.8" y="459.83" width="6" height="6"/>
<rect x="851.1" y="460.5" width="6" height="6"/>
<rect x="860.4" y="459.83" width="6" height="6"/>
<rect x="869.7" y="458.83" width="6" height="6"/>
<rect x="879" y="458.5" width="6" height="6"/>
<rect x="888.3" y="459.5" width="6" height="6"/>
<rect x="897.6" y="458.83" width="6" height="6"/>
<rect x="906.9" y="458.5" width="6" height="6"/>
<rect x="916.2" y="462.83" width="6" height="6"/>
<rect x="925.5" y="460.17" width="6" height="6"/>
<rect x="934.8" y="460.17" width="6" height="6"/>
<rect x="944.1" y="460.5" width="6" height="6"/>
<rect x="953.4" y="460.83" width="6" height="6"/>
<rect x="962.7" y="460.5" width="6" height="6"/>
<rect x="972" y="463.5" width="6" height="6"/>
<rect x="981.3" y="459.5" width="6" height="6"/>
<rect x="990.6" y="459.5" width="6" height="6"/>
<rect x="999.9" y="460.83" width="6" height="6"/>
<rect x="1009.2" y="467.5" width="6" height="6"/>
<rect x="1018.5" y="463.5" width="6" height="6"/>
<rect x="1027.8" y="462.17" width="6" height="6"/>
<rect x="1037.1" y="462.83" width="6" height="6"/>
<rect x="1046.4" y="462.83" width="6" height="6"/>
<rect x="1055.7" y="463.5" width="6" height="6"/>
<rect x="1065" y="463.5" width="6" height="6"/>
<rect x="1074.3" y="463.17" width="6" height="6"/>
<rect x="1083.6" y="462.5" width="6" height="6"/>
<rect x="1092.9" y="462.5" width="6" height="6"/>
</g>
<g fill="#000">
<circle cx="733.2" cy="582" r="3.6"/>
<circle cx="742.5" cy="582" r="3.6"/>
<circle cx="751.8" cy="582" r="3.6"/>
<circle cx="761.1" cy="581" r="3.6"/>
<circle cx="770.4" cy="581.33" r="3.6"/>
<circle cx="779.7" cy="581.33" r="3.6"/>
<circle cx="789" cy="581.33" r="3.6"/>
<circle cx="798.3" cy="581.33" r="3.6"/>
<circle cx="807.6" cy="581.33" r="3.6"/>
<circle cx="816.9" cy="581.33" r="3.6"/>
<circle cx="826.2" cy="552.67" r="3.6"/>
<circle cx="835.5" cy="559.33" r="3.6"/>
<circle cx="844.8" cy="558.33" r="3.6"/>
<circle cx="854.1" cy="559.67" r="3.6"/>
<circle cx="863.4" cy="560.67" r="3.6"/>
<circle cx="872.7" cy="561.67" r="3.6"/>
<circle cx="882" cy="565.33" r="3.6"/>
<circle cx="891.3" cy="564.33" r="3.6"/>
<circle cx="900.6" cy="565.67" r="3.6"/>
<circle cx="909.9" cy="567.33" r="3.6"/>
<circle cx="919.2" cy="539.33" r="3.6"/>
<circle cx="928.5" cy="543" r="3.6"/>
<circle cx="937.8" cy="553.33" r="3.6"/>
<circle cx="947.1" cy="557.33" r="3.6"/>
<circle cx="956.4" cy="560.33" r="3.6"/>
<circle cx="965.7" cy="567.33" r="3.6"/>
<circle cx="975" cy="570" r="3.6"/>
<circle cx="984.3" cy="573" r="3.6"/>
<circle cx="993.6" cy="574.67" r="3.6"/>
<circle cx="1002.9" cy="576.33" r="3.6"/>
<circle cx="1012.2" cy="536" r="3.6"/>
<circle cx="1021.5" cy="567.67" r="3.6"/>
<circle cx="1030.8" cy="578.67" r="3.6"/>
<circle cx="1040.1" cy="571.67" r="3.6"/>
<circle cx="1049.4" cy="613" r="3.6"/>
<circle cx="1058.7" cy="589.33" r="3.6"/>
<circle cx="1068" cy="580.33" r="3.6"/>
<circle cx="1077.3" cy="638" r="3.6"/>
<circle cx="1086.6" cy="619.33" r="3.6"/>
<circle cx="1095.9" cy="625.33" r="3.6"/>
</g>
<g fill="#007dc3">
<rect x="729.75" y="576.28" width="6.9" height="6.9"/>
<rect x="739.05" y="576.28" width="6.9" height="6.9"/>
<rect x="748.35" y="576.95" width="6.9" height="6.9"/>
<rect x="757.65" y="577.28" width="6.9" height="6.9"/>
<rect x="766.95" y="577.95" width="6.9" height="6.9"/>
<rect x="776.25" y="577.95" width="6.9" height="6.9"/>
<rect x="785.55" y="577.95" width="6.9" height="6.9"/>
<rect x="794.85" y="577.95" width="6.9" height="6.9"/>
<rect x="804.15" y="577.95" width="6.9" height="6.9"/>
<rect x="813.45" y="577.95" width="6.9" height="6.9"/>
<rect x="822.75" y="561.28" width="6.9" height="6.9"/>
<rect x="832.05" y="561.28" width="6.9" height="6.9"/>
<rect x="841.35" y="563.62" width="6.9" height="6.9"/>
<rect x="850.65" y="564.28" width="6.9" height="6.9"/>
<rect x="859.95" y="565.62" width="6.9" height="6.9"/>
<rect x="869.25" y="565.62" width="6.9" height="6.9"/>
<rect x="878.55" y="566.62" width="6.9" height="6.9"/>
<rect x="887.85" y="567.28" width="6.9" height="6.9"/>
<rect x="897.15" y="567.95" width="6.9" height="6.9"/>
<rect x="906.45" y="567.95" width="6.9" height="6.9"/>
<rect x="915.75" y="548.62" width="6.9" height="6.9"/>
<rect x="925.05" y="549.62" width="6.9" height="6.9"/>
<rect x="934.35" y="550.95" width="6.9" height="6.9"/>
<rect x="943.65" y="552.28" width="6.9" height="6.9"/>
<rect x="952.95" y="553.28" width="6.9" height="6.9"/>
<rect x="962.25" y="554.62" width="6.9" height="6.9"/>
<rect x="971.55" y="555.62" width="6.9" height="6.9"/>
<rect x="980.85" y="556.95" width="6.9" height="6.9"/>
<rect x="990.15" y="558.28" width="6.9" height="6.9"/>
<rect x="999.45" y="558.28" width="6.9" height="6.9"/>
<rect x="1008.75" y="535.62" width="6.9" height="6.9"/>
<rect x="1018.05" y="538.28" width="6.9" height="6.9"/>
<rect x="1027.35" y="538.95" width="6.9" height="6.9"/>
<rect x="1036.65" y="540.28" width="6.9" height="6.9"/>
<rect x="1045.95" y="540.28" width="6.9" height="6.9"/>
<rect x="1055.25" y="540.95" width="6.9" height="6.9"/>
<rect x="1064.55" y="542.28" width="6.9" height="6.9"/>
<rect x="1073.85" y="543.28" width="6.9" height="6.9"/>
<rect x="1083.15" y="545.28" width="6.9" height="6.9"/>
<rect x="1092.45" y="546.95" width="6.9" height="6.9"/>
</g>
<path d="M723.9 410.8V693.9H1105.2" fill="none" stroke="#000" stroke-width="2.2" stroke-linecap="square"/>
<path d="M723.9 410.8H1105.2V693.9" fill="none" stroke="#000" stroke-width="2.2" stroke-linecap="square"/>
<path d="M723.9 693.9v6.4M816.9 693.9v6.4M909.9 693.9v6.4M1002.9 693.9v6.4M1095.9 693.9v6.4M770.4 693.9v3.9M863.4 693.9v3.9M956.4 693.9v3.9M1049.4 693.9v3.9" stroke="#000" stroke-width="2.2" fill="none"/>
<path d="M723.9 693.9h-6.4M723.9 623.12h-6.4M723.9 552.35h-6.4M723.9 481.58h-6.4M723.9 410.8h-6.4M723.9 658.51h-3.9M723.9 587.74h-3.9M723.9 516.96h-3.9M723.9 446.19h-3.9" stroke="#000" stroke-width="2.2" fill="none"/>
<path d="M1105.2 693.9h5.8M1105.2 646.72h5.8M1105.2 599.53h5.8M1105.2 552.35h5.8M1105.2 505.17h5.8M1105.2 457.98h5.8M1105.2 410.8h5.8M1105.2 670.31h3M1105.2 623.12h3M1105.2 575.94h3M1105.2 528.76h3M1105.2 481.58h3M1105.2 434.39h3" stroke="#000" stroke-width="2.2" fill="none"/>
<text transform="translate(714.9 699.8) scale(0.95 1)" font-size="21.85" text-anchor="end">0</text>
<text transform="translate(714.9 629.02) scale(0.95 1)" font-size="21.85" text-anchor="end">400</text>
<text transform="translate(714.9 558.25) scale(0.95 1)" font-size="21.85" text-anchor="end">800</text>
<text transform="translate(714.9 487.48) scale(0.95 1)" font-size="21.85" text-anchor="end">1200</text>
<text transform="translate(714.9 416.7) scale(0.95 1)" font-size="21.85" text-anchor="end">1600</text>
<text transform="translate(1114.4 699.9) scale(0.95 1)" font-size="21.85">0</text>
<text transform="translate(1114.4 652.72) scale(0.95 1)" font-size="21.85">20</text>
<text transform="translate(1114.4 605.53) scale(0.95 1)" font-size="21.85">40</text>
<text transform="translate(1114.4 558.35) scale(0.95 1)" font-size="21.85">60</text>
<text transform="translate(1114.4 511.17) scale(0.95 1)" font-size="21.85">80</text>
<text transform="translate(1114.4 463.98) scale(0.95 1)" font-size="21.85">100</text>
<text transform="translate(1114.4 416.8) scale(0.95 1)" font-size="21.85">120</text>
<text transform="translate(724.1 719.7) scale(0.95 1)" font-size="21.85" text-anchor="middle">0</text>
<text transform="translate(817.1 719.7) scale(0.95 1)" font-size="21.85" text-anchor="middle">10</text>
<text transform="translate(910.1 719.7) scale(0.95 1)" font-size="21.85" text-anchor="middle">20</text>
<text transform="translate(1003.1 719.7) scale(0.95 1)" font-size="21.85" text-anchor="middle">30</text>
<text transform="translate(1096.1 719.7) scale(0.95 1)" font-size="21.85" text-anchor="middle">40</text>
<text transform="translate(911.5 741.5) scale(0.98 1)" font-size="23.26" text-anchor="middle">Cycle number</text>
<text transform="translate(661 558.3) rotate(-90) scale(0.99 1)" font-size="23.26" text-anchor="middle">Specific capacity (mAh g<tspan font-size="62%" dy="-0.61em">&#8722;1</tspan><tspan dy="0.38em">&#8203;</tspan>)</text>
<text transform="translate(1171.8 551.5) rotate(-90) scale(0.97 1)" font-size="23.26" text-anchor="middle">Coulombic&#160; efficiency (%)</text>
<text transform="translate(639 400.5)" font-size="37" font-weight="bold">d</text>
<text transform="translate(740 569.3) scale(1.02 1)" font-size="23.26">20 <tspan font-size="76%">&#176;</tspan>C</text>
<text transform="translate(836 546.7) scale(1.02 1)" font-size="23.26">40 <tspan font-size="76%">&#176;</tspan>C</text>
<text transform="translate(936.7 534.3) scale(1.02 1)" font-size="23.26">60 <tspan font-size="76%">&#176;</tspan>C</text>
<text transform="translate(1035 525) scale(1.02 1)" font-size="23.26">80 <tspan font-size="76%">&#176;</tspan>C</text>
<rect x="741.8" y="650.6" width="6.2" height="6.2" fill="#007dc3"/>
<circle cx="744.6" cy="677.3" r="3.5" fill="#000"/>
<text transform="translate(770.5 659.3) scale(0.98 1)" font-size="18.97">Gel electrolyte</text>
<text transform="translate(770.5 682.7) scale(0.98 1)" font-size="18.97">Liquid electrolyte</text>
<path d="M1061.3 447.5V431.4H1083" fill="none" stroke="#000" stroke-width="1"/>
<path d="M1094.4 431.4L1081.9 425.3V437.5Z" fill="#000"/>
</g>
<g id="panel-e">
<path d="M227 864h6v6h-6zM228 864h6v6h-6zM230 864h6v6h-6zM232 865h6v6h-6zM234 865h6v6h-6zM235 866h6v6h-6zM237 867h6v6h-6zM239 868h6v6h-6zM241 868h6v6h-6zM242 869h6v6h-6zM244 869h6v6h-6zM246 869h6v6h-6zM248 870h6v6h-6zM249 870h6v6h-6zM251 871h6v6h-6zM253 871h6v6h-6zM255 872h6v6h-6zM256 872h6v6h-6zM258 872h6v6h-6zM260 872h6v6h-6zM261 872h6v6h-6zM263 872h6v6h-6zM265 872h6v6h-6zM267 872h6v6h-6zM268 872h6v6h-6zM270 872h6v6h-6zM272 872h6v6h-6zM274 871h6v6h-6zM275 871h6v6h-6zM277 872h6v6h-6zM279 872h6v6h-6zM281 873h6v6h-6zM282 874h6v6h-6zM284 875h6v6h-6zM286 876h6v6h-6zM288 877h6v6h-6zM289 879h6v6h-6zM291 880h6v6h-6zM293 882h6v6h-6zM294 884h6v6h-6zM296 885h6v6h-6zM298 886h6v6h-6zM300 888h6v6h-6zM301 889h6v6h-6zM303 890h6v6h-6zM305 889h6v6h-6zM307 887h6v6h-6zM308 886h6v6h-6zM310 886h6v6h-6zM312 886h6v6h-6zM314 885h6v6h-6zM315 885h6v6h-6zM317 885h6v6h-6zM319 885h6v6h-6zM320 885h6v6h-6zM322 886h6v6h-6zM324 886h6v6h-6zM326 886h6v6h-6zM327 887h6v6h-6zM329 888h6v6h-6zM331 890h6v6h-6zM333 890h6v6h-6zM334 890h6v6h-6zM336 890h6v6h-6zM338 891h6v6h-6zM340 891h6v6h-6zM341 892h6v6h-6zM343 892h6v6h-6zM345 893h6v6h-6zM347 894h6v6h-6zM348 895h6v6h-6zM350 896h6v6h-6zM352 897h6v6h-6zM353 897h6v6h-6zM355 897h6v6h-6zM357 897h6v6h-6zM359 897h6v6h-6zM360 897h6v6h-6zM362 897h6v6h-6zM364 897h6v6h-6zM366 897h6v6h-6zM367 897h6v6h-6zM369 897h6v6h-6zM371 898h6v6h-6zM373 898h6v6h-6zM374 897h6v6h-6zM376 897h6v6h-6zM378 896h6v6h-6zM380 896h6v6h-6zM381 896h6v6h-6zM383 895h6v6h-6zM385 896h6v6h-6zM386 896h6v6h-6zM388 896h6v6h-6zM390 896h6v6h-6zM392 896h6v6h-6zM393 896h6v6h-6zM395 897h6v6h-6zM397 897h6v6h-6zM399 897h6v6h-6zM400 897h6v6h-6zM402 897h6v6h-6zM404 898h6v6h-6zM406 898h6v6h-6zM407 898h6v6h-6zM409 898h6v6h-6zM411 899h6v6h-6zM413 899h6v6h-6zM414 899h6v6h-6zM416 900h6v6h-6zM418 900h6v6h-6zM419 900h6v6h-6zM421 900h6v6h-6zM423 900h6v6h-6zM425 901h6v6h-6zM426 901h6v6h-6zM428 901h6v6h-6zM430 901h6v6h-6zM432 901h6v6h-6zM433 901h6v6h-6zM435 901h6v6h-6zM437 901h6v6h-6zM439 901h6v6h-6zM440 901h6v6h-6zM442 901h6v6h-6zM444 902h6v6h-6zM446 902h6v6h-6zM447 902h6v6h-6zM449 902h6v6h-6zM451 902h6v6h-6zM452 902h6v6h-6zM454 902h6v6h-6zM456 902h6v6h-6zM458 903h6v6h-6zM459 905h6v6h-6zM461 905h6v6h-6zM463 905h6v6h-6zM465 905h6v6h-6zM466 905h6v6h-6zM468 905h6v6h-6zM470 904h6v6h-6zM472 904h6v6h-6zM473 903h6v6h-6zM475 903h6v6h-6zM477 904h6v6h-6zM478 904h6v6h-6zM480 904h6v6h-6zM482 904h6v6h-6zM484 904h6v6h-6zM485 904h6v6h-6zM487 904h6v6h-6zM489 904h6v6h-6zM491 905h6v6h-6zM492 905h6v6h-6zM494 905h6v6h-6zM496 905h6v6h-6zM498 906h6v6h-6zM499 906h6v6h-6zM501 906h6v6h-6zM503 906h6v6h-6zM505 907h6v6h-6zM506 907h6v6h-6zM508 907h6v6h-6zM510 907h6v6h-6zM511 907h6v6h-6zM513 907h6v6h-6zM515 906h6v6h-6zM517 906h6v6h-6zM518 906h6v6h-6zM520 906h6v6h-6zM522 906h6v6h-6zM524 907h6v6h-6zM525 907h6v6h-6zM527 907h6v6h-6zM529 907h6v6h-6zM531 906h6v6h-6zM532 906h6v6h-6zM534 906h6v6h-6zM536 907h6v6h-6zM538 907h6v6h-6zM539 908h6v6h-6zM541 908h6v6h-6zM543 909h6v6h-6zM544 909h6v6h-6zM546 909h6v6h-6zM548 910h6v6h-6zM550 910h6v6h-6zM551 911h6v6h-6zM553 911h6v6h-6zM555 911h6v6h-6zM557 911h6v6h-6zM558 911h6v6h-6zM560 911h6v6h-6zM562 911h6v6h-6zM564 911h6v6h-6zM565 911h6v6h-6zM567 911h6v6h-6zM569 912h6v6h-6zM571 912h6v6h-6zM572 912h6v6h-6zM574 912h6v6h-6zM576 913h6v6h-6zM577 913h6v6h-6zM579 913h6v6h-6zM581 914h6v6h-6zM583 914h6v6h-6zM584 915h6v6h-6zM586 915h6v6h-6zM588 916h6v6h-6zM590 916h6v6h-6zM591 916h6v6h-6zM593 916h6v6h-6zM595 916h6v6h-6zM597 916h6v6h-6zM598 916h6v6h-6zM600 917h6v6h-6zM602 917h6v6h-6zM604 918h6v6h-6zM605 918h6v6h-6zM607 918h6v6h-6zM609 918h6v6h-6zM610 918h6v6h-6zM612 918h6v6h-6zM614 917h6v6h-6zM616 917h6v6h-6zM617 917h6v6h-6zM619 917h6v6h-6zM621 917h6v6h-6zM623 917h6v6h-6zM624 917h6v6h-6zM626 917h6v6h-6zM628 918h6v6h-6zM630 920h6v6h-6zM631 922h6v6h-6zM633 921h6v6h-6zM635 921h6v6h-6zM637 921h6v6h-6zM638 921h6v6h-6zM640 921h6v6h-6zM642 921h6v6h-6zM643 921h6v6h-6zM645 921h6v6h-6zM647 921h6v6h-6zM649 921h6v6h-6zM650 921h6v6h-6zM652 921h6v6h-6zM654 921h6v6h-6zM656 921h6v6h-6zM657 921h6v6h-6zM659 921h6v6h-6zM661 922h6v6h-6zM663 922h6v6h-6zM664 922h6v6h-6zM666 922h6v6h-6zM668 923h6v6h-6zM669 924h6v6h-6zM671 925h6v6h-6zM673 925h6v6h-6zM675 924h6v6h-6zM676 923h6v6h-6zM678 923h6v6h-6zM680 923h6v6h-6zM682 922h6v6h-6zM683 922h6v6h-6zM685 922h6v6h-6zM687 921h6v6h-6zM689 921h6v6h-6zM690 921h6v6h-6zM692 921h6v6h-6zM694 920h6v6h-6zM696 920h6v6h-6zM697 920h6v6h-6zM699 920h6v6h-6zM701 921h6v6h-6zM702 921h6v6h-6zM704 921h6v6h-6zM706 921h6v6h-6zM708 922h6v6h-6zM709 922h6v6h-6zM711 922h6v6h-6zM713 923h6v6h-6zM715 923h6v6h-6zM716 923h6v6h-6zM718 924h6v6h-6zM720 924h6v6h-6zM722 924h6v6h-6zM723 925h6v6h-6zM725 925h6v6h-6zM727 925h6v6h-6zM729 926h6v6h-6zM730 926h6v6h-6zM732 927h6v6h-6zM734 927h6v6h-6zM735 928h6v6h-6zM737 928h6v6h-6zM739 929h6v6h-6zM741 929h6v6h-6zM742 930h6v6h-6zM744 930h6v6h-6zM746 931h6v6h-6zM748 931h6v6h-6zM749 931h6v6h-6zM751 931h6v6h-6zM753 932h6v6h-6zM755 932h6v6h-6zM756 932h6v6h-6zM758 932h6v6h-6zM760 932h6v6h-6zM762 932h6v6h-6zM763 932h6v6h-6zM765 932h6v6h-6zM767 931h6v6h-6zM768 930h6v6h-6zM770 929h6v6h-6zM772 929h6v6h-6zM774 928h6v6h-6zM775 928h6v6h-6zM777 927h6v6h-6zM779 927h6v6h-6zM781 926h6v6h-6zM782 926h6v6h-6zM784 926h6v6h-6zM786 925h6v6h-6zM788 925h6v6h-6zM789 925h6v6h-6zM791 925h6v6h-6zM793 925h6v6h-6zM795 925h6v6h-6zM796 925h6v6h-6zM798 925h6v6h-6zM800 926h6v6h-6zM801 926h6v6h-6zM803 926h6v6h-6zM805 927h6v6h-6zM807 927h6v6h-6zM808 927h6v6h-6zM810 927h6v6h-6zM812 927h6v6h-6zM814 928h6v6h-6zM815 928h6v6h-6zM817 928h6v6h-6zM819 929h6v6h-6zM821 929h6v6h-6zM822 930h6v6h-6zM824 930h6v6h-6zM826 931h6v6h-6zM827 932h6v6h-6zM829 932h6v6h-6zM831 933h6v6h-6zM833 933h6v6h-6zM834 934h6v6h-6zM836 934h6v6h-6zM838 934h6v6h-6zM840 934h6v6h-6zM841 934h6v6h-6zM843 934h6v6h-6zM845 934h6v6h-6zM847 934h6v6h-6zM848 934h6v6h-6zM850 933h6v6h-6zM852 933h6v6h-6zM854 932h6v6h-6zM855 932h6v6h-6zM857 931h6v6h-6zM859 930h6v6h-6zM860 929h6v6h-6zM862 929h6v6h-6zM864 928h6v6h-6zM866 928h6v6h-6zM867 928h6v6h-6zM869 927h6v6h-6zM871 927h6v6h-6zM873 927h6v6h-6zM874 927h6v6h-6zM876 926h6v6h-6zM878 926h6v6h-6zM880 926h6v6h-6zM881 926h6v6h-6zM883 926h6v6h-6zM885 926h6v6h-6zM887 926h6v6h-6zM888 926h6v6h-6zM890 926h6v6h-6zM892 926h6v6h-6zM893 927h6v6h-6zM895 927h6v6h-6zM897 928h6v6h-6zM899 929h6v6h-6zM900 931h6v6h-6zM902 930h6v6h-6zM904 929h6v6h-6zM906 928h6v6h-6zM907 927h6v6h-6zM909 927h6v6h-6zM911 926h6v6h-6zM913 926h6v6h-6zM914 925h6v6h-6zM916 925h6v6h-6zM918 925h6v6h-6zM920 925h6v6h-6zM921 924h6v6h-6zM923 924h6v6h-6zM925 924h6v6h-6zM926 924h6v6h-6zM928 923h6v6h-6zM930 923h6v6h-6zM932 923h6v6h-6zM933 922h6v6h-6zM935 922h6v6h-6zM937 921h6v6h-6zM939 921h6v6h-6zM940 921h6v6h-6zM942 920h6v6h-6zM944 920h6v6h-6zM946 920h6v6h-6zM947 920h6v6h-6zM949 920h6v6h-6zM951 919h6v6h-6zM953 918h6v6h-6zM954 917h6v6h-6zM956 916h6v6h-6zM958 915h6v6h-6zM959 915h6v6h-6zM961 914h6v6h-6zM963 914h6v6h-6zM965 913h6v6h-6zM966 913h6v6h-6zM968 914h6v6h-6zM970 919h6v6h-6zM972 919h6v6h-6zM973 918h6v6h-6zM975 918h6v6h-6zM977 917h6v6h-6zM979 917h6v6h-6zM980 917h6v6h-6zM982 917h6v6h-6zM984 917h6v6h-6zM985 917h6v6h-6zM987 917h6v6h-6zM989 917h6v6h-6zM991 917h6v6h-6zM992 917h6v6h-6zM994 917h6v6h-6zM996 917h6v6h-6zM998 917h6v6h-6zM999 918h6v6h-6zM1001 918h6v6h-6zM1003 918h6v6h-6zM1005 918h6v6h-6zM1006 918h6v6h-6zM1008 918h6v6h-6zM1010 918h6v6h-6zM1012 918h6v6h-6zM1013 918h6v6h-6zM1015 919h6v6h-6zM1017 919h6v6h-6zM1018 919h6v6h-6zM1020 918h6v6h-6zM1022 918h6v6h-6zM1024 918h6v6h-6zM1025 917h6v6h-6zM1027 917h6v6h-6zM1029 917h6v6h-6zM1031 916h6v6h-6zM1032 916h6v6h-6zM1034 916h6v6h-6zM1036 916h6v6h-6zM1038 917h6v6h-6zM1039 917h6v6h-6zM1041 916h6v6h-6zM1043 915h6v6h-6zM1045 915h6v6h-6zM1046 914h6v6h-6zM1048 914h6v6h-6zM1050 914h6v6h-6zM1051 914h6v6h-6zM1053 915h6v6h-6zM1055 915h6v6h-6zM1057 915h6v6h-6zM1058 915h6v6h-6zM1060 915h6v6h-6zM1062 915h6v6h-6zM1064 916h6v6h-6zM1065 916h6v6h-6zM1067 916h6v6h-6zM1069 916h6v6h-6zM1071 916h6v6h-6zM1072 917h6v6h-6zM1074 917h6v6h-6zM1076 917h6v6h-6zM1078 917h6v6h-6zM1079 918h6v6h-6zM1081 918h6v6h-6zM1083 918h6v6h-6zM1084 919h6v6h-6zM1086 919h6v6h-6zM1088 919h6v6h-6zM1090 919h6v6h-6zM1091 919h6v6h-6zM1093 920h6v6h-6z" fill="#0070c0"/>
<g fill="#fff" stroke="#000" stroke-width="1" shape-rendering="crispEdges">
<rect x="227.5" y="805.5" width="5" height="5"/><rect x="229.5" y="804.5" width="5" height="5"/><rect x="231.5" y="804.5" width="5" height="5"/><rect x="232.5" y="804.5" width="5" height="5"/><rect x="234.5" y="805.5" width="5" height="5"/><rect x="236.5" y="805.5" width="5" height="5"/><rect x="238.5" y="805.5" width="5" height="5"/><rect x="239.5" y="804.5" width="5" height="5"/><rect x="241.5" y="806.5" width="5" height="5"/><rect x="243.5" y="806.5" width="5" height="5"/><rect x="245.5" y="805.5" width="5" height="5"/><rect x="246.5" y="805.5" width="5" height="5"/><rect x="248.5" y="806.5" width="5" height="5"/><rect x="250.5" y="805.5" width="5" height="5"/><rect x="252.5" y="805.5" width="5" height="5"/><rect x="253.5" y="805.5" width="5" height="5"/><rect x="255.5" y="806.5" width="5" height="5"/><rect x="257.5" y="805.5" width="5" height="5"/><rect x="258.5" y="805.5" width="5" height="5"/><rect x="260.5" y="805.5" width="5" height="5"/><rect x="262.5" y="806.5" width="5" height="5"/><rect x="264.5" y="805.5" width="5" height="5"/><rect x="265.5" y="805.5" width="5" height="5"/><rect x="267.5" y="806.5" width="5" height="5"/><rect x="269.5" y="805.5" width="5" height="5"/><rect x="271.5" y="805.5" width="5" height="5"/><rect x="272.5" y="805.5" width="5" height="5"/><rect x="274.5" y="804.5" width="5" height="5"/><rect x="276.5" y="806.5" width="5" height="5"/><rect x="278.5" y="805.5" width="5" height="5"/><rect x="279.5" y="805.5" width="5" height="5"/><rect x="281.5" y="807.5" width="5" height="5"/><rect x="283.5" y="806.5" width="5" height="5"/><rect x="285.5" y="807.5" width="5" height="5"/><rect x="286.5" y="806.5" width="5" height="5"/><rect x="288.5" y="806.5" width="5" height="5"/><rect x="290.5" y="806.5" width="5" height="5"/><rect x="291.5" y="807.5" width="5" height="5"/><rect x="293.5" y="807.5" width="5" height="5"/><rect x="295.5" y="806.5" width="5" height="5"/><rect x="297.5" y="807.5" width="5" height="5"/><rect x="298.5" y="807.5" width="5" height="5"/><rect x="300.5" y="805.5" width="5" height="5"/><rect x="302.5" y="804.5" width="5" height="5"/><rect x="304.5" y="803.5" width="5" height="5"/><rect x="305.5" y="803.5" width="5" height="5"/><rect x="307.5" y="804.5" width="5" height="5"/><rect x="309.5" y="805.5" width="5" height="5"/><rect x="311.5" y="804.5" width="5" height="5"/><rect x="312.5" y="804.5" width="5" height="5"/><rect x="314.5" y="805.5" width="5" height="5"/><rect x="316.5" y="804.5" width="5" height="5"/><rect x="318.5" y="804.5" width="5" height="5"/><rect x="319.5" y="804.5" width="5" height="5"/><rect x="321.5" y="804.5" width="5" height="5"/><rect x="323.5" y="804.5" width="5" height="5"/><rect x="324.5" y="804.5" width="5" height="5"/><rect x="326.5" y="805.5" width="5" height="5"/><rect x="328.5" y="804.5" width="5" height="5"/><rect x="330.5" y="805.5" width="5" height="5"/><rect x="331.5" y="810.5" width="5" height="5"/><rect x="333.5" y="803.5" width="5" height="5"/><rect x="335.5" y="805.5" width="5" height="5"/><rect x="337.5" y="806.5" width="5" height="5"/><rect x="338.5" y="805.5" width="5" height="5"/><rect x="340.5" y="805.5" width="5" height="5"/><rect x="342.5" y="805.5" width="5" height="5"/><rect x="344.5" y="805.5" width="5" height="5"/><rect x="345.5" y="805.5" width="5" height="5"/><rect x="347.5" y="805.5" width="5" height="5"/><rect x="349.5" y="806.5" width="5" height="5"/><rect x="351.5" y="805.5" width="5" height="5"/><rect x="352.5" y="805.5" width="5" height="5"/><rect x="354.5" y="806.5" width="5" height="5"/><rect x="356.5" y="806.5" width="5" height="5"/><rect x="357.5" y="805.5" width="5" height="5"/><rect x="359.5" y="805.5" width="5" height="5"/><rect x="361.5" y="806.5" width="5" height="5"/><rect x="363.5" y="805.5" width="5" height="5"/><rect x="364.5" y="804.5" width="5" height="5"/><rect x="366.5" y="806.5" width="5" height="5"/><rect x="368.5" y="806.5" width="5" height="5"/><rect x="370.5" y="806.5" width="5" height="5"/><rect x="371.5" y="805.5" width="5" height="5"/><rect x="373.5" y="808.5" width="5" height="5"/><rect x="375.5" y="805.5" width="5" height="5"/><rect x="377.5" y="805.5" width="5" height="5"/><rect x="378.5" y="806.5" width="5" height="5"/><rect x="380.5" y="806.5" width="5" height="5"/><rect x="382.5" y="806.5" width="5" height="5"/><rect x="384.5" y="806.5" width="5" height="5"/><rect x="385.5" y="806.5" width="5" height="5"/><rect x="387.5" y="805.5" width="5" height="5"/><rect x="389.5" y="805.5" width="5" height="5"/><rect x="390.5" y="805.5" width="5" height="5"/><rect x="392.5" y="805.5" width="5" height="5"/><rect x="394.5" y="806.5" width="5" height="5"/><rect x="396.5" y="806.5" width="5" height="5"/><rect x="397.5" y="805.5" width="5" height="5"/><rect x="399.5" y="805.5" width="5" height="5"/><rect x="401.5" y="805.5" width="5" height="5"/><rect x="403.5" y="805.5" width="5" height="5"/><rect x="404.5" y="805.5" width="5" height="5"/><rect x="406.5" y="805.5" width="5" height="5"/><rect x="408.5" y="806.5" width="5" height="5"/><rect x="410.5" y="805.5" width="5" height="5"/><rect x="411.5" y="806.5" width="5" height="5"/><rect x="413.5" y="805.5" width="5" height="5"/><rect x="415.5" y="806.5" width="5" height="5"/><rect x="416.5" y="805.5" width="5" height="5"/><rect x="418.5" y="805.5" width="5" height="5"/><rect x="420.5" y="805.5" width="5" height="5"/><rect x="422.5" y="806.5" width="5" height="5"/><rect x="423.5" y="806.5" width="5" height="5"/><rect x="425.5" y="805.5" width="5" height="5"/><rect x="427.5" y="805.5" width="5" height="5"/><rect x="429.5" y="805.5" width="5" height="5"/><rect x="430.5" y="805.5" width="5" height="5"/><rect x="432.5" y="805.5" width="5" height="5"/><rect x="434.5" y="806.5" width="5" height="5"/><rect x="436.5" y="805.5" width="5" height="5"/><rect x="437.5" y="805.5" width="5" height="5"/><rect x="439.5" y="806.5" width="5" height="5"/><rect x="441.5" y="805.5" width="5" height="5"/><rect x="443.5" y="805.5" width="5" height="5"/><rect x="444.5" y="806.5" width="5" height="5"/><rect x="446.5" y="806.5" width="5" height="5"/><rect x="448.5" y="805.5" width="5" height="5"/><rect x="449.5" y="806.5" width="5" height="5"/><rect x="451.5" y="805.5" width="5" height="5"/><rect x="453.5" y="805.5" width="5" height="5"/><rect x="455.5" y="805.5" width="5" height="5"/><rect x="456.5" y="805.5" width="5" height="5"/><rect x="458.5" y="805.5" width="5" height="5"/><rect x="460.5" y="808.5" width="5" height="5"/><rect x="462.5" y="804.5" width="5" height="5"/><rect x="463.5" y="805.5" width="5" height="5"/><rect x="465.5" y="805.5" width="5" height="5"/><rect x="467.5" y="804.5" width="5" height="5"/><rect x="469.5" y="802.5" width="5" height="5"/><rect x="470.5" y="805.5" width="5" height="5"/><rect x="472.5" y="806.5" width="5" height="5"/><rect x="474.5" y="805.5" width="5" height="5"/><rect x="476.5" y="805.5" width="5" height="5"/><rect x="477.5" y="805.5" width="5" height="5"/><rect x="479.5" y="808.5" width="5" height="5"/><rect x="481.5" y="805.5" width="5" height="5"/><rect x="482.5" y="805.5" width="5" height="5"/><rect x="484.5" y="805.5" width="5" height="5"/><rect x="486.5" y="802.5" width="5" height="5"/><rect x="488.5" y="803.5" width="5" height="5"/><rect x="489.5" y="802.5" width="5" height="5"/><rect x="491.5" y="803.5" width="5" height="5"/><rect x="493.5" y="803.5" width="5" height="5"/><rect x="495.5" y="804.5" width="5" height="5"/><rect x="496.5" y="804.5" width="5" height="5"/><rect x="498.5" y="802.5" width="5" height="5"/><rect x="500.5" y="803.5" width="5" height="5"/><rect x="502.5" y="804.5" width="5" height="5"/><rect x="503.5" y="804.5" width="5" height="5"/><rect x="505.5" y="800.5" width="5" height="5"/><rect x="507.5" y="801.5" width="5" height="5"/><rect x="509.5" y="802.5" width="5" height="5"/><rect x="510.5" y="800.5" width="5" height="5"/><rect x="512.5" y="801.5" width="5" height="5"/><rect x="514.5" y="801.5" width="5" height="5"/><rect x="515.5" y="801.5" width="5" height="5"/><rect x="517.5" y="801.5" width="5" height="5"/><rect x="519.5" y="803.5" width="5" height="5"/><rect x="521.5" y="803.5" width="5" height="5"/><rect x="522.5" y="803.5" width="5" height="5"/><rect x="524.5" y="803.5" width="5" height="5"/><rect x="526.5" y="803.5" width="5" height="5"/><rect x="528.5" y="804.5" width="5" height="5"/><rect x="529.5" y="803.5" width="5" height="5"/><rect x="531.5" y="803.5" width="5" height="5"/><rect x="533.5" y="804.5" width="5" height="5"/><rect x="535.5" y="803.5" width="5" height="5"/><rect x="536.5" y="802.5" width="5" height="5"/><rect x="538.5" y="803.5" width="5" height="5"/><rect x="540.5" y="803.5" width="5" height="5"/><rect x="542.5" y="803.5" width="5" height="5"/><rect x="543.5" y="803.5" width="5" height="5"/><rect x="545.5" y="804.5" width="5" height="5"/><rect x="547.5" y="803.5" width="5" height="5"/><rect x="548.5" y="800.5" width="5" height="5"/><rect x="550.5" y="800.5" width="5" height="5"/><rect x="552.5" y="811.5" width="5" height="5"/><rect x="554.5" y="801.5" width="5" height="5"/><rect x="555.5" y="802.5" width="5" height="5"/><rect x="557.5" y="801.5" width="5" height="5"/><rect x="559.5" y="801.5" width="5" height="5"/><rect x="561.5" y="802.5" width="5" height="5"/><rect x="562.5" y="801.5" width="5" height="5"/><rect x="564.5" y="800.5" width="5" height="5"/><rect x="566.5" y="804.5" width="5" height="5"/><rect x="568.5" y="802.5" width="5" height="5"/><rect x="569.5" y="803.5" width="5" height="5"/><rect x="571.5" y="804.5" width="5" height="5"/><rect x="573.5" y="803.5" width="5" height="5"/><rect x="574.5" y="802.5" width="5" height="5"/><rect x="576.5" y="804.5" width="5" height="5"/><rect x="578.5" y="802.5" width="5" height="5"/><rect x="580.5" y="802.5" width="5" height="5"/><rect x="581.5" y="803.5" width="5" height="5"/><rect x="583.5" y="803.5" width="5" height="5"/><rect x="585.5" y="803.5" width="5" height="5"/><rect x="587.5" y="804.5" width="5" height="5"/><rect x="588.5" y="803.5" width="5" height="5"/><rect x="590.5" y="803.5" width="5" height="5"/><rect x="592.5" y="803.5" width="5" height="5"/><rect x="594.5" y="803.5" width="5" height="5"/><rect x="595.5" y="803.5" width="5" height="5"/><rect x="597.5" y="803.5" width="5" height="5"/><rect x="599.5" y="803.5" width="5" height="5"/><rect x="601.5" y="803.5" width="5" height="5"/><rect x="602.5" y="803.5" width="5" height="5"/><rect x="604.5" y="803.5" width="5" height="5"/><rect x="606.5" y="808.5" width="5" height="5"/><rect x="607.5" y="803.5" width="5" height="5"/><rect x="609.5" y="803.5" width="5" height="5"/><rect x="611.5" y="804.5" width="5" height="5"/><rect x="613.5" y="803.5" width="5" height="5"/><rect x="614.5" y="803.5" width="5" height="5"/><rect x="616.5" y="803.5" width="5" height="5"/><rect x="618.5" y="803.5" width="5" height="5"/><rect x="620.5" y="803.5" width="5" height="5"/><rect x="621.5" y="803.5" width="5" height="5"/><rect x="623.5" y="803.5" width="5" height="5"/><rect x="625.5" y="803.5" width="5" height="5"/><rect x="627.5" y="803.5" width="5" height="5"/><rect x="628.5" y="803.5" width="5" height="5"/><rect x="630.5" y="804.5" width="5" height="5"/><rect x="632.5" y="810.5" width="5" height="5"/><rect x="634.5" y="803.5" width="5" height="5"/><rect x="635.5" y="804.5" width="5" height="5"/><rect x="637.5" y="804.5" width="5" height="5"/><rect x="639.5" y="803.5" width="5" height="5"/><rect x="640.5" y="803.5" width="5" height="5"/><rect x="642.5" y="803.5" width="5" height="5"/><rect x="644.5" y="803.5" width="5" height="5"/><rect x="646.5" y="802.5" width="5" height="5"/><rect x="647.5" y="804.5" width="5" height="5"/><rect x="649.5" y="803.5" width="5" height="5"/><rect x="651.5" y="803.5" width="5" height="5"/><rect x="653.5" y="803.5" width="5" height="5"/><rect x="654.5" y="804.5" width="5" height="5"/><rect x="656.5" y="803.5" width="5" height="5"/><rect x="658.5" y="803.5" width="5" height="5"/><rect x="660.5" y="802.5" width="5" height="5"/><rect x="661.5" y="801.5" width="5" height="5"/><rect x="663.5" y="801.5" width="5" height="5"/><rect x="665.5" y="801.5" width="5" height="5"/><rect x="667.5" y="802.5" width="5" height="5"/><rect x="668.5" y="802.5" width="5" height="5"/><rect x="670.5" y="811.5" width="5" height="5"/><rect x="672.5" y="801.5" width="5" height="5"/><rect x="673.5" y="801.5" width="5" height="5"/><rect x="675.5" y="801.5" width="5" height="5"/><rect x="677.5" y="802.5" width="5" height="5"/><rect x="679.5" y="802.5" width="5" height="5"/><rect x="680.5" y="802.5" width="5" height="5"/><rect x="682.5" y="802.5" width="5" height="5"/><rect x="684.5" y="803.5" width="5" height="5"/><rect x="686.5" y="804.5" width="5" height="5"/><rect x="687.5" y="803.5" width="5" height="5"/><rect x="689.5" y="803.5" width="5" height="5"/><rect x="691.5" y="803.5" width="5" height="5"/><rect x="693.5" y="803.5" width="5" height="5"/><rect x="694.5" y="803.5" width="5" height="5"/><rect x="696.5" y="803.5" width="5" height="5"/><rect x="698.5" y="804.5" width="5" height="5"/><rect x="700.5" y="803.5" width="5" height="5"/><rect x="701.5" y="803.5" width="5" height="5"/><rect x="703.5" y="803.5" width="5" height="5"/><rect x="705.5" y="804.5" width="5" height="5"/><rect x="706.5" y="803.5" width="5" height="5"/><rect x="708.5" y="803.5" width="5" height="5"/><rect x="710.5" y="802.5" width="5" height="5"/><rect x="712.5" y="804.5" width="5" height="5"/><rect x="713.5" y="803.5" width="5" height="5"/><rect x="715.5" y="802.5" width="5" height="5"/><rect x="717.5" y="802.5" width="5" height="5"/><rect x="719.5" y="803.5" width="5" height="5"/><rect x="720.5" y="803.5" width="5" height="5"/><rect x="722.5" y="803.5" width="5" height="5"/><rect x="724.5" y="803.5" width="5" height="5"/><rect x="726.5" y="803.5" width="5" height="5"/><rect x="727.5" y="802.5" width="5" height="5"/><rect x="729.5" y="804.5" width="5" height="5"/><rect x="731.5" y="803.5" width="5" height="5"/><rect x="732.5" y="803.5" width="5" height="5"/><rect x="734.5" y="804.5" width="5" height="5"/><rect x="736.5" y="803.5" width="5" height="5"/><rect x="738.5" y="803.5" width="5" height="5"/><rect x="739.5" y="804.5" width="5" height="5"/><rect x="741.5" y="804.5" width="5" height="5"/><rect x="743.5" y="803.5" width="5" height="5"/><rect x="745.5" y="804.5" width="5" height="5"/><rect x="746.5" y="803.5" width="5" height="5"/><rect x="748.5" y="803.5" width="5" height="5"/><rect x="750.5" y="803.5" width="5" height="5"/><rect x="752.5" y="802.5" width="5" height="5"/><rect x="753.5" y="803.5" width="5" height="5"/><rect x="755.5" y="804.5" width="5" height="5"/><rect x="757.5" y="803.5" width="5" height="5"/><rect x="759.5" y="803.5" width="5" height="5"/><rect x="760.5" y="804.5" width="5" height="5"/><rect x="762.5" y="802.5" width="5" height="5"/><rect x="764.5" y="807.5" width="5" height="5"/><rect x="765.5" y="801.5" width="5" height="5"/><rect x="767.5" y="801.5" width="5" height="5"/><rect x="769.5" y="802.5" width="5" height="5"/><rect x="771.5" y="802.5" width="5" height="5"/><rect x="772.5" y="801.5" width="5" height="5"/><rect x="774.5" y="801.5" width="5" height="5"/><rect x="776.5" y="803.5" width="5" height="5"/><rect x="778.5" y="801.5" width="5" height="5"/><rect x="779.5" y="803.5" width="5" height="5"/><rect x="781.5" y="803.5" width="5" height="5"/><rect x="783.5" y="803.5" width="5" height="5"/><rect x="785.5" y="803.5" width="5" height="5"/><rect x="786.5" y="803.5" width="5" height="5"/><rect x="788.5" y="803.5" width="5" height="5"/><rect x="790.5" y="803.5" width="5" height="5"/><rect x="792.5" y="803.5" width="5" height="5"/><rect x="793.5" y="802.5" width="5" height="5"/><rect x="795.5" y="804.5" width="5" height="5"/><rect x="797.5" y="803.5" width="5" height="5"/><rect x="798.5" y="803.5" width="5" height="5"/><rect x="800.5" y="803.5" width="5" height="5"/><rect x="802.5" y="803.5" width="5" height="5"/><rect x="804.5" y="803.5" width="5" height="5"/><rect x="805.5" y="802.5" width="5" height="5"/><rect x="807.5" y="803.5" width="5" height="5"/><rect x="809.5" y="802.5" width="5" height="5"/><rect x="811.5" y="803.5" width="5" height="5"/><rect x="812.5" y="802.5" width="5" height="5"/><rect x="814.5" y="803.5" width="5" height="5"/><rect x="816.5" y="803.5" width="5" height="5"/><rect x="818.5" y="804.5" width="5" height="5"/><rect x="819.5" y="803.5" width="5" height="5"/><rect x="821.5" y="802.5" width="5" height="5"/><rect x="823.5" y="803.5" width="5" height="5"/><rect x="825.5" y="803.5" width="5" height="5"/><rect x="826.5" y="803.5" width="5" height="5"/><rect x="828.5" y="803.5" width="5" height="5"/><rect x="830.5" y="803.5" width="5" height="5"/><rect x="831.5" y="804.5" width="5" height="5"/><rect x="833.5" y="803.5" width="5" height="5"/><rect x="835.5" y="804.5" width="5" height="5"/><rect x="837.5" y="804.5" width="5" height="5"/><rect x="838.5" y="803.5" width="5" height="5"/><rect x="840.5" y="802.5" width="5" height="5"/><rect x="842.5" y="803.5" width="5" height="5"/><rect x="844.5" y="803.5" width="5" height="5"/><rect x="845.5" y="802.5" width="5" height="5"/><rect x="847.5" y="803.5" width="5" height="5"/><rect x="849.5" y="803.5" width="5" height="5"/><rect x="851.5" y="803.5" width="5" height="5"/><rect x="852.5" y="803.5" width="5" height="5"/><rect x="854.5" y="804.5" width="5" height="5"/><rect x="856.5" y="803.5" width="5" height="5"/><rect x="858.5" y="803.5" width="5" height="5"/><rect x="859.5" y="803.5" width="5" height="5"/><rect x="861.5" y="803.5" width="5" height="5"/><rect x="863.5" y="803.5" width="5" height="5"/><rect x="864.5" y="803.5" width="5" height="5"/><rect x="866.5" y="803.5" width="5" height="5"/><rect x="868.5" y="802.5" width="5" height="5"/><rect x="870.5" y="803.5" width="5" height="5"/><rect x="871.5" y="802.5" width="5" height="5"/><rect x="873.5" y="803.5" width="5" height="5"/><rect x="875.5" y="804.5" width="5" height="5"/><rect x="877.5" y="803.5" width="5" height="5"/><rect x="878.5" y="803.5" width="5" height="5"/><rect x="880.5" y="802.5" width="5" height="5"/><rect x="882.5" y="804.5" width="5" height="5"/><rect x="884.5" y="803.5" width="5" height="5"/><rect x="885.5" y="803.5" width="5" height="5"/><rect x="887.5" y="804.5" width="5" height="5"/><rect x="889.5" y="803.5" width="5" height="5"/><rect x="891.5" y="803.5" width="5" height="5"/><rect x="892.5" y="803.5" width="5" height="5"/><rect x="894.5" y="802.5" width="5" height="5"/><rect x="896.5" y="802.5" width="5" height="5"/><rect x="897.5" y="808.5" width="5" height="5"/><rect x="899.5" y="803.5" width="5" height="5"/><rect x="901.5" y="807.5" width="5" height="5"/><rect x="903.5" y="803.5" width="5" height="5"/><rect x="904.5" y="803.5" width="5" height="5"/><rect x="906.5" y="803.5" width="5" height="5"/><rect x="908.5" y="803.5" width="5" height="5"/><rect x="910.5" y="803.5" width="5" height="5"/><rect x="911.5" y="802.5" width="5" height="5"/><rect x="913.5" y="804.5" width="5" height="5"/><rect x="915.5" y="803.5" width="5" height="5"/><rect x="917.5" y="803.5" width="5" height="5"/><rect x="918.5" y="804.5" width="5" height="5"/><rect x="920.5" y="804.5" width="5" height="5"/><rect x="922.5" y="803.5" width="5" height="5"/><rect x="923.5" y="803.5" width="5" height="5"/><rect x="925.5" y="802.5" width="5" height="5"/><rect x="927.5" y="803.5" width="5" height="5"/><rect x="929.5" y="803.5" width="5" height="5"/><rect x="930.5" y="802.5" width="5" height="5"/><rect x="932.5" y="804.5" width="5" height="5"/><rect x="934.5" y="803.5" width="5" height="5"/><rect x="936.5" y="803.5" width="5" height="5"/><rect x="937.5" y="803.5" width="5" height="5"/><rect x="939.5" y="804.5" width="5" height="5"/><rect x="941.5" y="804.5" width="5" height="5"/><rect x="943.5" y="803.5" width="5" height="5"/><rect x="944.5" y="802.5" width="5" height="5"/><rect x="946.5" y="807.5" width="5" height="5"/><rect x="948.5" y="804.5" width="5" height="5"/><rect x="950.5" y="803.5" width="5" height="5"/><rect x="951.5" y="803.5" width="5" height="5"/><rect x="953.5" y="803.5" width="5" height="5"/><rect x="955.5" y="802.5" width="5" height="5"/><rect x="956.5" y="801.5" width="5" height="5"/><rect x="958.5" y="801.5" width="5" height="5"/><rect x="960.5" y="802.5" width="5" height="5"/><rect x="962.5" y="801.5" width="5" height="5"/><rect x="963.5" y="801.5" width="5" height="5"/><rect x="965.5" y="801.5" width="5" height="5"/><rect x="967.5" y="802.5" width="5" height="5"/><rect x="969.5" y="807.5" width="5" height="5"/><rect x="970.5" y="803.5" width="5" height="5"/><rect x="972.5" y="817.5" width="5" height="5"/><rect x="974.5" y="800.5" width="5" height="5"/><rect x="976.5" y="801.5" width="5" height="5"/><rect x="977.5" y="807.5" width="5" height="5"/><rect x="979.5" y="801.5" width="5" height="5"/><rect x="981.5" y="803.5" width="5" height="5"/><rect x="983.5" y="803.5" width="5" height="5"/><rect x="984.5" y="803.5" width="5" height="5"/><rect x="986.5" y="803.5" width="5" height="5"/><rect x="988.5" y="803.5" width="5" height="5"/><rect x="989.5" y="803.5" width="5" height="5"/><rect x="991.5" y="807.5" width="5" height="5"/><rect x="993.5" y="803.5" width="5" height="5"/><rect x="995.5" y="804.5" width="5" height="5"/><rect x="996.5" y="803.5" width="5" height="5"/><rect x="998.5" y="803.5" width="5" height="5"/><rect x="1000.5" y="803.5" width="5" height="5"/><rect x="1002.5" y="803.5" width="5" height="5"/><rect x="1003.5" y="803.5" width="5" height="5"/><rect x="1005.5" y="804.5" width="5" height="5"/><rect x="1007.5" y="802.5" width="5" height="5"/><rect x="1009.5" y="803.5" width="5" height="5"/><rect x="1010.5" y="803.5" width="5" height="5"/><rect x="1012.5" y="803.5" width="5" height="5"/><rect x="1014.5" y="803.5" width="5" height="5"/><rect x="1016.5" y="803.5" width="5" height="5"/><rect x="1017.5" y="803.5" width="5" height="5"/><rect x="1019.5" y="804.5" width="5" height="5"/><rect x="1021.5" y="802.5" width="5" height="5"/><rect x="1022.5" y="803.5" width="5" height="5"/><rect x="1024.5" y="803.5" width="5" height="5"/><rect x="1026.5" y="803.5" width="5" height="5"/><rect x="1028.5" y="803.5" width="5" height="5"/><rect x="1029.5" y="802.5" width="5" height="5"/><rect x="1031.5" y="803.5" width="5" height="5"/><rect x="1033.5" y="803.5" width="5" height="5"/><rect x="1035.5" y="804.5" width="5" height="5"/><rect x="1036.5" y="803.5" width="5" height="5"/><rect x="1038.5" y="803.5" width="5" height="5"/><rect x="1040.5" y="803.5" width="5" height="5"/><rect x="1042.5" y="808.5" width="5" height="5"/><rect x="1043.5" y="803.5" width="5" height="5"/><rect x="1045.5" y="803.5" width="5" height="5"/><rect x="1047.5" y="803.5" width="5" height="5"/><rect x="1049.5" y="803.5" width="5" height="5"/><rect x="1050.5" y="803.5" width="5" height="5"/><rect x="1052.5" y="804.5" width="5" height="5"/><rect x="1054.5" y="804.5" width="5" height="5"/><rect x="1055.5" y="803.5" width="5" height="5"/><rect x="1057.5" y="803.5" width="5" height="5"/><rect x="1059.5" y="803.5" width="5" height="5"/><rect x="1061.5" y="804.5" width="5" height="5"/><rect x="1062.5" y="804.5" width="5" height="5"/><rect x="1064.5" y="803.5" width="5" height="5"/><rect x="1066.5" y="804.5" width="5" height="5"/><rect x="1068.5" y="803.5" width="5" height="5"/><rect x="1069.5" y="803.5" width="5" height="5"/><rect x="1071.5" y="803.5" width="5" height="5"/><rect x="1073.5" y="803.5" width="5" height="5"/><rect x="1075.5" y="803.5" width="5" height="5"/><rect x="1076.5" y="803.5" width="5" height="5"/><rect x="1078.5" y="803.5" width="5" height="5"/><rect x="1080.5" y="803.5" width="5" height="5"/><rect x="1081.5" y="804.5" width="5" height="5"/><rect x="1083.5" y="803.5" width="5" height="5"/><rect x="1085.5" y="802.5" width="5" height="5"/><rect x="1087.5" y="803.5" width="5" height="5"/><rect x="1088.5" y="804.5" width="5" height="5"/><rect x="1090.5" y="803.5" width="5" height="5"/><rect x="1092.5" y="802.5" width="5" height="5"/><rect x="1094.5" y="803.5" width="5" height="5"/>
</g>
<path d="M228 780V1034.07H1096.15" fill="none" stroke="#000" stroke-width="2.2" stroke-linecap="square"/>
<path d="M228 780H1096.15V1034.07" fill="none" stroke="#000" stroke-width="2.2" stroke-linecap="square"/>
<path d="M228 1034.07v6.4M401.63 1034.07v6.4M575.26 1034.07v6.4M748.89 1034.07v6.4M922.52 1034.07v6.4M1096.15 1034.07v6.4M314.81 1034.07v3.9M488.45 1034.07v3.9M662.08 1034.07v3.9M835.71 1034.07v3.9M1009.34 1034.07v3.9" stroke="#000" stroke-width="2.2" fill="none"/>
<path d="M228 1034.07h-6.4M228 949.38h-6.4M228 864.69h-6.4M228 780h-6.4M228 991.72h-3.9M228 907.03h-3.9M228 822.35h-3.9" stroke="#000" stroke-width="2.2" fill="none"/>
<path d="M1096.15 1034.07h6.7M1096.15 987.88h6.7M1096.15 941.68h6.7M1096.15 895.49h6.7M1096.15 849.29h6.7M1096.15 803.1h6.7M1096.15 1010.97h3.9M1096.15 964.78h3.9M1096.15 918.58h3.9M1096.15 872.39h3.9M1096.15 826.19h3.9M1096.15 780h3.9" stroke="#000" stroke-width="2.2" fill="none"/>
<text transform="translate(217 1040.47) scale(0.96 1)" font-size="22.8" text-anchor="end">0</text>
<text transform="translate(217 955.78) scale(0.96 1)" font-size="22.8" text-anchor="end">400</text>
<text transform="translate(217 871.09) scale(0.96 1)" font-size="22.8" text-anchor="end">800</text>
<text transform="translate(217 786.4) scale(0.96 1)" font-size="22.8" text-anchor="end">1200</text>
<text transform="translate(1106.15 1040.07) scale(0.96 1)" font-size="22.8">0</text>
<text transform="translate(1106.15 993.88) scale(0.96 1)" font-size="22.8">20</text>
<text transform="translate(1106.15 947.68) scale(0.96 1)" font-size="22.8">40</text>
<text transform="translate(1106.15 901.49) scale(0.96 1)" font-size="22.8">60</text>
<text transform="translate(1106.15 855.29) scale(0.96 1)" font-size="22.8">80</text>
<text transform="translate(1106.15 809.1) scale(0.96 1)" font-size="22.8">100</text>
<text transform="translate(228 1060.6) scale(0.96 1)" font-size="22.8" text-anchor="middle">0</text>
<text transform="translate(401.63 1060.6) scale(0.96 1)" font-size="22.8" text-anchor="middle">100</text>
<text transform="translate(575.26 1060.6) scale(0.96 1)" font-size="22.8" text-anchor="middle">200</text>
<text transform="translate(748.89 1060.6) scale(0.96 1)" font-size="22.8" text-anchor="middle">300</text>
<text transform="translate(922.52 1060.6) scale(0.96 1)" font-size="22.8" text-anchor="middle">400</text>
<text transform="translate(1096.15 1060.6) scale(0.96 1)" font-size="22.8" text-anchor="middle">500</text>
<text transform="translate(653.5 1083) scale(0.98 1)" font-size="23.26" text-anchor="middle">Cycle number</text>
<text transform="translate(157.5 901.5) rotate(-90) scale(0.98 1)" font-size="23.26" text-anchor="middle">Specific capacity (mAh g<tspan font-size="62%" dy="-0.61em">&#8722;1</tspan><tspan dy="0.38em">&#8203;</tspan>)</text>
<text transform="translate(1172 913.3) rotate(-90) scale(0.97 1)" font-size="23.26" text-anchor="middle">Coulombic&#160; efficiency (%)</text>
<text transform="translate(134 746)" font-size="37" font-weight="bold">e</text>
<text transform="translate(767 1017.2) scale(0.98 1)" font-size="22.85">Areal sulfur loading:&#160; 4 mg cm<tspan font-size="62%" dy="-0.61em">&#8722;2</tspan><tspan dy="0.38em">&#8203;</tspan></text>
<path d="M1038.4 817.7V837.3H1068" fill="none" stroke="#000" stroke-width="1"/>
<path d="M1078.5 837.3L1066.8 831.4V843.2Z" fill="#000"/>
</g>
</svg>
</body>
</html>
